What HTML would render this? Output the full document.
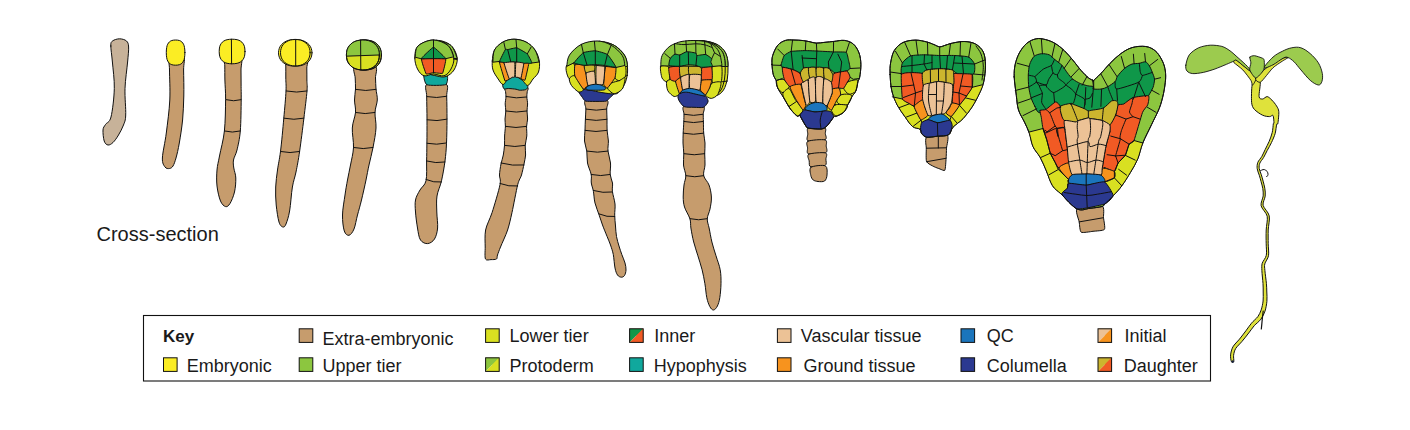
<!DOCTYPE html>
<html lang="en">
<head>
<meta charset="utf-8">
<title>Embryo development key</title>
<style>
html,body{margin:0;padding:0;background:#fff;}
body{width:1410px;height:430px;overflow:hidden;}
svg{display:block;}
svg text{font-family:"Liberation Sans",Arial,Helvetica,sans-serif;fill:#1a1a1a;}
svg path{stroke-linejoin:round;stroke-linecap:round;}
</style>
</head>
<body>
<svg width="1410" height="430" viewBox="0 0 1410 430">
<rect x="0" y="0" width="1410" height="430" fill="#ffffff"/>
<g id="legend">
<rect x="143.5" y="315.5" width="1067" height="65.5" fill="#fff" stroke="#111111" stroke-width="1.1"/>
<text x="163" y="341.8" font-size="17" font-weight="bold">Key</text>
<rect x="163.5" y="357.8" width="13.6" height="13.6" fill="#fbed24" stroke="#111111" stroke-width="1"/>
<text x="186.7" y="371.5" font-size="18">Embryonic</text>
<rect x="299.2" y="328.8" width="13.6" height="13.6" fill="#c69c6d" stroke="#111111" stroke-width="1"/>
<text x="322.5" y="344.5" font-size="18">Extra-embryonic</text>
<rect x="299.2" y="357.8" width="13.6" height="13.6" fill="#8cc63f" stroke="#111111" stroke-width="1"/>
<text x="322.5" y="371.5" font-size="18">Upper tier</text>
<rect x="485.6" y="328.8" width="13.6" height="13.6" fill="#d9e021" stroke="#111111" stroke-width="1"/>
<text x="509.6" y="341.8" font-size="18">Lower tier</text>
<path d="M485.6 357.8 h13.6 v13.6 z" fill="#d9e021" stroke="none"/>
<path d="M485.6 357.8 h13.6 L485.6 371.4 z" fill="#8cc63f" stroke="none"/>
<path d="M499.2 357.8 L499.2 371.4 L485.6 371.4 z" fill="#d9e021" stroke="none"/>
<rect x="485.6" y="357.8" width="13.6" height="13.6" fill="none" stroke="#111111" stroke-width="1"/>
<text x="509.6" y="371.5" font-size="18">Protoderm</text>
<path d="M629.6 328.8 h13.6 v13.6 z" fill="#f15a24" stroke="none"/>
<path d="M629.6 328.8 h13.6 L629.6 342.4 z" fill="#0f9749" stroke="none"/>
<path d="M643.2 328.8 L643.2 342.4 L629.6 342.4 z" fill="#f15a24" stroke="none"/>
<rect x="629.6" y="328.8" width="13.6" height="13.6" fill="none" stroke="#111111" stroke-width="1"/>
<text x="654.3" y="341.8" font-size="18">Inner</text>
<rect x="629.6" y="357.8" width="13.6" height="13.6" fill="#10a89d" stroke="#111111" stroke-width="1"/>
<text x="653.8" y="371.5" font-size="18">Hypophysis</text>
<rect x="777.4" y="328.8" width="13.6" height="13.6" fill="#ecc296" stroke="#111111" stroke-width="1"/>
<text x="800.8" y="341.8" font-size="18">Vascular tissue</text>
<rect x="777.4" y="357.8" width="13.6" height="13.6" fill="#f7931e" stroke="#111111" stroke-width="1"/>
<text x="803.4" y="371.5" font-size="18">Ground tissue</text>
<rect x="961" y="328.8" width="13.6" height="13.6" fill="#1b75bc" stroke="#111111" stroke-width="1"/>
<text x="986.8" y="341.8" font-size="18">QC</text>
<rect x="961" y="357.8" width="13.6" height="13.6" fill="#2b3990" stroke="#111111" stroke-width="1"/>
<text x="986.8" y="371.5" font-size="18">Columella</text>
<path d="M1098 328.8 h13.6 v13.6 z" fill="#f7931e" stroke="none"/>
<path d="M1098 328.8 h13.6 L1098 342.4 z" fill="#ecc296" stroke="none"/>
<path d="M1111.6 328.8 L1111.6 342.4 L1098 342.4 z" fill="#f7931e" stroke="none"/>
<rect x="1098" y="328.8" width="13.6" height="13.6" fill="none" stroke="#111111" stroke-width="1"/>
<text x="1124.4" y="341.8" font-size="18">Initial</text>
<path d="M1098 357.8 h13.6 v13.6 z" fill="#f15a24" stroke="none"/>
<path d="M1098 357.8 h13.6 L1098 371.4 z" fill="#ccb52e" stroke="none"/>
<path d="M1111.6 357.8 L1111.6 371.4 L1098 371.4 z" fill="#f15a24" stroke="none"/>
<rect x="1098" y="357.8" width="13.6" height="13.6" fill="none" stroke="#111111" stroke-width="1"/>
<text x="1123.8" y="371.5" font-size="18">Daughter</text>
</g>
<text x="96.5" y="241.2" font-size="20">Cross-section</text>
<g id="e1">
<path d="M110.8 46 C110.8 42.5 111 42.2 112.5 41 C114 39.8 117.2 38.8 119.5 38.8 C121.8 38.8 125 39.6 126.5 41 C128 42.4 128.4 43.5 128.6 47 C128.8 50.5 128.2 55.1 127.6 62 C127 68.9 125.3 79.7 125 88.5 C124.7 97.3 126 108.9 125.7 115 C125.5 121.1 124.7 121.7 123.5 125 C122.3 128.3 120.2 132.1 118.5 135 C116.8 137.9 114.8 140.8 113 142.5 C111.2 144.2 109.5 145.2 108 145 C106.5 144.8 105 143.5 104.2 141 C103.4 138.5 102.8 132.8 103 130 C103.2 127.2 104.2 126.7 105.5 124.5 C106.8 122.3 109.5 123 111 117 C112.5 111 114.1 97.7 114.3 88.5 C114.5 79.3 113 69.1 112.4 62 C111.8 54.9 110.8 49.5 110.8 46Z" fill="#c7b299" stroke="#111111" stroke-width="1"/>
</g>
<g id="e2">
<path d="M169.6 56 C171.9 53.7 181.1 53.7 183.4 56 C185.7 58.3 183.5 63.3 183.6 70 C183.7 76.7 184 87.7 183.8 96 C183.6 104.3 183.3 112.2 182.6 120 C181.8 127.8 180.4 136.7 179.3 143 C178.2 149.3 177.1 154.2 176 158 C174.9 161.8 174.1 164.2 173 166 C171.9 167.8 170.8 168.3 169.5 168.5 C168.2 168.7 166.2 168.8 165 167 C163.8 165.2 162.2 163.7 162.4 158 C162.6 152.3 165.1 142.7 166.3 133 C167.5 123.3 169.3 110.5 169.8 100 C170.3 89.5 169.5 77.3 169.5 70 C169.5 62.7 167.3 58.3 169.6 56Z" fill="#c69c6d" stroke="#111111" stroke-width="1"/>
<path d="M184.9 52.6 C184.9 54.3 184.8 56.3 184.5 57.7 C184.3 59.1 184 60 183.5 61 C183 61.9 182.5 62.7 181.8 63.3 C181.1 63.9 180.4 64.4 179.4 64.7 C178.3 65 176.9 65.2 175.6 65.2 C174.3 65.2 172.9 65 171.8 64.7 C170.8 64.4 170.1 63.9 169.4 63.3 C168.7 62.7 168.2 61.9 167.7 61 C167.2 60 166.9 59.1 166.7 57.7 C166.4 56.3 166.3 54.3 166.3 52.6 C166.3 50.9 166.4 48.9 166.7 47.5 C166.9 46.1 167.2 45.2 167.7 44.2 C168.2 43.3 168.7 42.5 169.4 41.9 C170.1 41.3 170.8 40.8 171.8 40.5 C172.9 40.2 174.3 40 175.6 40 C176.9 40 178.3 40.2 179.4 40.5 C180.4 40.8 181.1 41.3 181.8 41.9 C182.5 42.5 183 43.3 183.5 44.2 C184 45.2 184.3 46.1 184.5 47.5 C184.8 48.9 184.9 50.9 184.9 52.6Z" fill="#fbed24" stroke="#111111" stroke-width="1"/>
</g>
<g id="e3">
<path d="M224.8 55 C227.5 53.2 238.1 52.5 240.8 55 C243.5 57.5 240.9 65 241 70 C241.1 75 241.1 80 241.1 85 C241.1 90 241.3 92 241.2 99.7 C241.1 107.4 241 122.6 240.3 131 C239.6 139.4 238.1 145.2 237 150 C235.9 154.8 234 157 233.5 160 C233 163 233.4 165 233.8 168 C234.2 171 235.7 174 235.8 178 C235.9 182 235.5 187.8 234.5 192 C233.5 196.2 231.5 201.1 230 203.5 C228.5 205.9 227.2 207 225.6 206.6 C224 206.2 221.9 204.4 220.5 201 C219.1 197.6 217.6 191.2 217 186 C216.4 180.8 216.6 175 217 170 C217.4 165 218.3 162.5 219.5 156 C220.7 149.5 223.4 140.4 224.4 131 C225.4 121.6 225.5 108.2 225.6 99.7 C225.7 91.2 225 85.6 224.9 80 C224.8 74.4 224.8 70.2 224.8 66 C224.8 61.8 222.1 56.8 224.8 55Z" fill="#c69c6d" stroke="#111111" stroke-width="1"/>
<path d="M226 99.7 Q233.6 101.9 241.2 99.7" fill="none" stroke="#111111" stroke-width="1"/>
<path d="M224.4 131 Q232.4 133.2 240.3 131" fill="none" stroke="#111111" stroke-width="1"/>
<path d="M245 51.5 C245 53.1 244.8 55 244.5 56.3 C244.2 57.6 243.6 58.6 243 59.5 C242.3 60.5 241.5 61.3 240.5 61.9 C239.6 62.5 238.5 63 237.1 63.3 C235.7 63.6 233.8 63.8 232.1 63.8 C230.4 63.8 228.5 63.6 227.1 63.3 C225.7 63 224.6 62.5 223.7 61.9 C222.7 61.3 221.9 60.5 221.2 59.5 C220.6 58.6 220 57.6 219.7 56.3 C219.4 55 219.2 53.1 219.2 51.5 C219.2 49.9 219.4 48 219.7 46.7 C220 45.4 220.6 44.4 221.2 43.5 C221.9 42.5 222.7 41.7 223.7 41.1 C224.6 40.5 225.7 40 227.1 39.7 C228.5 39.4 230.4 39.2 232.1 39.2 C233.8 39.2 235.7 39.4 237.1 39.7 C238.5 40 239.6 40.5 240.5 41.1 C241.5 41.7 242.3 42.5 243 43.5 C243.6 44.4 244.2 45.4 244.5 46.7 C244.8 48 245 49.9 245 51.5Z" fill="#fbed24" stroke="#111111" stroke-width="1"/>
<path d="M231.4 39.2 L231.6 63.8" fill="none" stroke="#111111" stroke-width="1"/>
</g>
<g id="e4">
<path d="M285.8 56 C289.3 54.3 303.1 54 306.6 56 C310.1 58 306.8 64 306.8 68 C306.9 72 306.9 76.2 306.9 80 C306.9 83.8 307.5 84.6 307 91 C306.5 97.4 305.1 108.1 303.9 118.2 C302.7 128.3 300.9 142.5 299.6 151.5 C298.3 160.5 297.2 166.1 296 172 C294.8 177.9 293.5 180.5 292.4 187 C291.3 193.5 290.7 204.8 289.6 211 C288.5 217.2 287.1 221.3 286 224 C284.9 226.7 284.1 227.3 282.9 227 C281.7 226.7 280.1 225.7 279 222 C277.9 218.3 276.8 210.8 276.2 205 C275.6 199.2 275.5 192.8 275.7 187 C275.9 181.2 276.7 175.9 277.5 170 C278.3 164.1 279.4 160.1 280.5 151.5 C281.6 142.9 282.9 128.3 283.8 118.2 C284.7 108.1 285.7 97.7 286 91 C286.3 84.3 285.8 82.2 285.8 78 C285.8 73.8 285.8 69.7 285.8 66 C285.8 62.3 282.3 57.7 285.8 56Z" fill="#c69c6d" stroke="#111111" stroke-width="1"/>
<path d="M286.2 91 Q296.6 93.2 307 91" fill="none" stroke="#111111" stroke-width="1"/>
<path d="M283.8 118.2 Q293.9 120.4 303.9 118.2" fill="none" stroke="#111111" stroke-width="1"/>
<path d="M280.5 151.5 Q290.1 153.7 299.6 151.5" fill="none" stroke="#111111" stroke-width="1"/>
<path d="M312 52.8 C312 54.3 311.7 55.9 311.2 57.3 C310.7 58.7 310 59.9 309 61 C308 62.1 306.8 63 305.5 63.8 C304.1 64.6 302.6 65.2 300.9 65.6 C299.2 66 297.1 66.2 295.2 66.2 C293.4 66.2 291.3 66 289.6 65.6 C287.9 65.2 286.4 64.6 285 63.8 C283.7 63 282.5 62.1 281.5 61 C280.5 59.9 279.8 58.7 279.3 57.3 C278.8 55.9 278.5 54.3 278.5 52.8 C278.5 51.3 278.8 49.7 279.3 48.3 C279.8 46.9 280.5 45.7 281.5 44.6 C282.5 43.5 283.7 42.6 285 41.8 C286.4 41 287.9 40.4 289.6 40 C291.3 39.6 293.4 39.4 295.2 39.4 C297.1 39.4 299.2 39.6 300.9 40 C302.6 40.4 304.1 41 305.5 41.8 C306.8 42.6 308 43.5 309 44.6 C310 45.7 310.7 46.9 311.2 48.3 C311.7 49.7 312 51.3 312 52.8Z" fill="#fbed24" stroke="#111111" stroke-width="1"/>
<path d="M310.1 52.7 C310.1 54.2 309.9 55.8 309.4 57.1 C309 58.5 308.3 59.7 307.5 60.8 C306.6 61.8 305.5 62.8 304.3 63.5 C303.1 64.3 301.8 64.9 300.3 65.3 C298.8 65.7 297 65.9 295.3 65.9 C293.6 65.9 291.8 65.7 290.3 65.3 C288.8 64.9 287.5 64.3 286.3 63.5 C285.1 62.8 284 61.8 283.1 60.8 C282.3 59.7 281.6 58.5 281.2 57.1 C280.7 55.8 280.5 54.2 280.5 52.7 C280.5 51.2 280.7 49.6 281.2 48.3 C281.6 46.9 282.3 45.7 283.1 44.6 C284 43.6 285.1 42.6 286.3 41.9 C287.5 41.1 288.8 40.5 290.3 40.1 C291.8 39.7 293.6 39.5 295.3 39.5 C297 39.5 298.8 39.7 300.3 40.1 C301.8 40.5 303.1 41.1 304.3 41.9 C305.5 42.6 306.6 43.6 307.5 44.6 C308.3 45.7 309 46.9 309.4 48.3 C309.9 49.6 310.1 51.2 310.1 52.7Z" fill="#fbed24" stroke="#111111" stroke-width="1"/>
<path d="M295.7 39.5 L295.7 65.8" fill="none" stroke="#111111" stroke-width="1"/>
</g>
<g id="e5">
<path d="M355 66 C358.3 64 371.6 64 375 66 C378.4 68 375.3 74.2 375.5 78 C375.7 81.8 375.7 85.3 376 89 C376.3 92.7 377.5 96.1 377.3 100 C377.1 103.9 375.2 107.8 375 112.5 C374.8 117.2 376.3 122.2 376 128 C375.7 133.8 374.2 141.3 373 147.5 C371.8 153.7 370.2 159.6 369 165 C367.8 170.4 367.2 174.2 366 180 C364.8 185.8 362.9 194.2 361.5 200 C360.1 205.8 358.8 210.2 357.5 215 C356.2 219.8 355.4 225.6 354 229 C352.6 232.4 350.6 235 349 235.3 C347.4 235.6 345.4 234.4 344.3 231 C343.2 227.6 342.4 221 342.5 215 C342.6 209 344.2 200.8 345 195 C345.8 189.2 346.6 185 347.5 180 C348.4 175 349.5 170.4 350.5 165 C351.5 159.6 353.2 153.7 353.5 147.5 C353.8 141.3 352 133.8 352.3 128 C352.6 122.2 355.1 117.2 355.5 112.5 C355.9 107.8 354.5 103.9 354.5 100 C354.5 96.1 355.4 92.7 355.5 89 C355.6 85.3 355.3 81.8 355.2 78 C355.1 74.2 351.7 68 355 66Z" fill="#c69c6d" stroke="#111111" stroke-width="1"/>
<path d="M355.5 89.4 Q365.8 91.6 376 89.4" fill="none" stroke="#111111" stroke-width="1"/>
<path d="M355.5 112.5 Q365.2 114.7 375 112.5" fill="none" stroke="#111111" stroke-width="1"/>
<path d="M353.5 147.5 Q363.2 149.7 373 147.5" fill="none" stroke="#111111" stroke-width="1"/>
<path d="M381.4 55 C381.4 56.7 381.1 58.6 380.7 60.2 C380.2 61.7 379.4 63.1 378.5 64.3 C377.6 65.5 376.4 66.5 375.1 67.4 C373.8 68.2 372.3 68.9 370.6 69.3 C368.9 69.8 366.8 70 364.9 70 C363 70 360.9 69.8 359.2 69.3 C357.5 68.9 356 68.2 354.7 67.4 C353.4 66.5 352.2 65.5 351.3 64.3 C350.4 63.1 349.6 61.7 349.1 60.2 C348.7 58.6 348.4 56.7 348.4 55 C348.4 53.3 348.7 51.4 349.1 49.8 C349.6 48.3 350.4 46.9 351.3 45.7 C352.2 44.5 353.4 43.5 354.7 42.6 C356 41.8 357.5 41.1 359.2 40.7 C360.9 40.2 363 40 364.9 40 C366.8 40 368.9 40.2 370.6 40.7 C372.3 41.1 373.8 41.8 375.1 42.6 C376.4 43.5 377.6 44.5 378.5 45.7 C379.4 46.9 380.2 48.3 380.7 49.8 C381.1 51.4 381.4 53.3 381.4 55Z" fill="#d9e021" stroke="#111111" stroke-width="1"/>
<clipPath id="c5b"><path d="M381.4 55 C381.4 56.7 381.1 58.6 380.7 60.2 C380.2 61.7 379.4 63.1 378.5 64.3 C377.6 65.5 376.4 66.5 375.1 67.4 C373.8 68.2 372.3 68.9 370.6 69.3 C368.9 69.8 366.8 70 364.9 70 C363 70 360.9 69.8 359.2 69.3 C357.5 68.9 356 68.2 354.7 67.4 C353.4 66.5 352.2 65.5 351.3 64.3 C350.4 63.1 349.6 61.7 349.1 60.2 C348.7 58.6 348.4 56.7 348.4 55 C348.4 53.3 348.7 51.4 349.1 49.8 C349.6 48.3 350.4 46.9 351.3 45.7 C352.2 44.5 353.4 43.5 354.7 42.6 C356 41.8 357.5 41.1 359.2 40.7 C360.9 40.2 363 40 364.9 40 C366.8 40 368.9 40.2 370.6 40.7 C372.3 41.1 373.8 41.8 375.1 42.6 C376.4 43.5 377.6 44.5 378.5 45.7 C379.4 46.9 380.2 48.3 380.7 49.8 C381.1 51.4 381.4 53.3 381.4 55Z"/></clipPath>
<g clip-path="url(#c5b)"><path d="M340 30 H390 V54.6 L340 56.4Z" fill="#8cc63f"/></g>
<path d="M381.4 55 C381.4 56.7 381.1 58.6 380.7 60.2 C380.2 61.7 379.4 63.1 378.5 64.3 C377.6 65.5 376.4 66.5 375.1 67.4 C373.8 68.2 372.3 68.9 370.6 69.3 C368.9 69.8 366.8 70 364.9 70 C363 70 360.9 69.8 359.2 69.3 C357.5 68.9 356 68.2 354.7 67.4 C353.4 66.5 352.2 65.5 351.3 64.3 C350.4 63.1 349.6 61.7 349.1 60.2 C348.7 58.6 348.4 56.7 348.4 55 C348.4 53.3 348.7 51.4 349.1 49.8 C349.6 48.3 350.4 46.9 351.3 45.7 C352.2 44.5 353.4 43.5 354.7 42.6 C356 41.8 357.5 41.1 359.2 40.7 C360.9 40.2 363 40 364.9 40 C366.8 40 368.9 40.2 370.6 40.7 C372.3 41.1 373.8 41.8 375.1 42.6 C376.4 43.5 377.6 44.5 378.5 45.7 C379.4 46.9 380.2 48.3 380.7 49.8 C381.1 51.4 381.4 53.3 381.4 55Z" fill="none" stroke="#111111" stroke-width="1"/>
<path d="M379.4 55 C379.4 56.7 379.1 58.6 378.7 60.2 C378.2 61.7 377.4 63.1 376.5 64.3 C375.6 65.5 374.4 66.5 373.1 67.4 C371.8 68.2 370.3 68.9 368.6 69.3 C366.9 69.8 364.8 70 362.9 70 C361 70 358.9 69.8 357.2 69.3 C355.5 68.9 354 68.2 352.7 67.4 C351.4 66.5 350.2 65.5 349.3 64.3 C348.4 63.1 347.6 61.7 347.1 60.2 C346.7 58.6 346.4 56.7 346.4 55 C346.4 53.3 346.7 51.4 347.1 49.8 C347.6 48.3 348.4 46.9 349.3 45.7 C350.2 44.5 351.4 43.5 352.7 42.6 C354 41.8 355.5 41.1 357.2 40.7 C358.9 40.2 361 40 362.9 40 C364.8 40 366.9 40.2 368.6 40.7 C370.3 41.1 371.8 41.8 373.1 42.6 C374.4 43.5 375.6 44.5 376.5 45.7 C377.4 46.9 378.2 48.3 378.7 49.8 C379.1 51.4 379.4 53.3 379.4 55Z" fill="#d9e021" stroke="#111111" stroke-width="1"/>
<clipPath id="c5f"><path d="M379.4 55 C379.4 56.7 379.1 58.6 378.7 60.2 C378.2 61.7 377.4 63.1 376.5 64.3 C375.6 65.5 374.4 66.5 373.1 67.4 C371.8 68.2 370.3 68.9 368.6 69.3 C366.9 69.8 364.8 70 362.9 70 C361 70 358.9 69.8 357.2 69.3 C355.5 68.9 354 68.2 352.7 67.4 C351.4 66.5 350.2 65.5 349.3 64.3 C348.4 63.1 347.6 61.7 347.1 60.2 C346.7 58.6 346.4 56.7 346.4 55 C346.4 53.3 346.7 51.4 347.1 49.8 C347.6 48.3 348.4 46.9 349.3 45.7 C350.2 44.5 351.4 43.5 352.7 42.6 C354 41.8 355.5 41.1 357.2 40.7 C358.9 40.2 361 40 362.9 40 C364.8 40 366.9 40.2 368.6 40.7 C370.3 41.1 371.8 41.8 373.1 42.6 C374.4 43.5 375.6 44.5 376.5 45.7 C377.4 46.9 378.2 48.3 378.7 49.8 C379.1 51.4 379.4 53.3 379.4 55Z"/></clipPath>
<g clip-path="url(#c5f)"><path d="M340 30 H390 V54.6 L340 56.4Z" fill="#8cc63f"/><path d="M340 56.4 L390 54.6" fill="none" stroke="#111111" stroke-width="1"/></g>
<path d="M379.4 55 C379.4 56.7 379.1 58.6 378.7 60.2 C378.2 61.7 377.4 63.1 376.5 64.3 C375.6 65.5 374.4 66.5 373.1 67.4 C371.8 68.2 370.3 68.9 368.6 69.3 C366.9 69.8 364.8 70 362.9 70 C361 70 358.9 69.8 357.2 69.3 C355.5 68.9 354 68.2 352.7 67.4 C351.4 66.5 350.2 65.5 349.3 64.3 C348.4 63.1 347.6 61.7 347.1 60.2 C346.7 58.6 346.4 56.7 346.4 55 C346.4 53.3 346.7 51.4 347.1 49.8 C347.6 48.3 348.4 46.9 349.3 45.7 C350.2 44.5 351.4 43.5 352.7 42.6 C354 41.8 355.5 41.1 357.2 40.7 C358.9 40.2 361 40 362.9 40 C364.8 40 366.9 40.2 368.6 40.7 C370.3 41.1 371.8 41.8 373.1 42.6 C374.4 43.5 375.6 44.5 376.5 45.7 C377.4 46.9 378.2 48.3 378.7 49.8 C379.1 51.4 379.4 53.3 379.4 55Z" fill="none" stroke="#111111" stroke-width="1"/>
<path d="M360.6 40 L360.8 70" fill="none" stroke="#111111" stroke-width="1"/>
</g>
<g id="e6">
<path d="M427 84 C430.2 81.9 442.7 81.9 446 84 C449.3 86.1 446.5 90.7 446.7 96.6 C446.9 102.5 447 111.7 447 119.5 C447 127.3 446.8 136.4 446.5 143.3 C446.2 150.2 445.8 154.8 445 161 C444.2 167.2 442.8 175 441.5 180.8 C440.2 186.6 437.8 190.8 437 196 C436.2 201.2 436.7 206.7 436.8 212 C436.9 217.3 438 223.5 437.6 228 C437.2 232.5 436.1 236.4 434.5 239 C432.9 241.6 430 243.4 427.7 243.6 C425.4 243.8 422.2 242.6 420.5 240 C418.8 237.4 418.3 232.7 417.5 228 C416.7 223.3 415.8 216.7 415.5 212 C415.2 207.3 414.8 203.7 415.5 200 C416.2 196.3 418.2 193.2 420 190 C421.8 186.8 424.9 185.6 426 180.8 C427.1 176 426.5 167.2 426.6 161 C426.8 154.8 426.8 150.2 426.9 143.3 C427 136.4 427 127.3 427 119.5 C427 111.7 426.7 102.5 426.7 96.6 C426.7 90.7 423.8 86.1 427 84Z" fill="#c69c6d" stroke="#111111" stroke-width="1"/>
<path d="M426.7 96.6 Q436.7 98.6 446.7 96.3" fill="none" stroke="#111111" stroke-width="1"/>
<path d="M427 119.8 Q437 121.7 447 119.2" fill="none" stroke="#111111" stroke-width="1"/>
<path d="M426.9 143.3 Q436.7 145.3 446.5 143" fill="none" stroke="#111111" stroke-width="1"/>
<path d="M426.6 161 Q435.8 163.7 445 162" fill="none" stroke="#111111" stroke-width="1"/>
<path d="M426 179.5 Q433.8 182.9 441.5 182" fill="none" stroke="#111111" stroke-width="1"/>
<path d="M423.7 75.5 C423.8 74.4 427 73.8 428 73.5 C429 73.2 432.3 73 433.5 73 C434.7 73 438.6 73 440 73.2 C441.4 73.5 446.7 74.4 447.3 75.5 C447.9 76.6 447.7 83.7 445.7 84.6 C443.7 85.5 429.2 85.7 427 84.8 C424.8 83.9 423.6 76.6 423.7 75.5Z" fill="#10a89d" stroke="#111111" stroke-width="1"/>
<path d="M419.5 58 C419 53.7 420.1 49 423 46 C425.9 43 432.3 40.4 437 40.3 C441.7 40.2 447.6 42.5 451 45.5 C454.4 48.5 456.7 53.9 457.2 58 C457.7 62.1 455.9 66.9 454 70 C452.1 73.1 448.8 75.5 446 76.5 C443.2 77.5 440.3 76.8 437 76 C433.7 75.2 428.9 75 426 72 C423.1 69 420 62.3 419.5 58Z" fill="#d9e021" stroke="#111111" stroke-width="1"/>
<path d="M437 40.3 C439.3 41.2 447.6 42.5 451 45.5 C454.4 48.5 456.2 56.3 457.2 58.5 L440 58.5Z" fill="#8cc63f" stroke="#111111" stroke-width="1"/>
<path d="M414.8 58 C414.9 54.2 415 49 418 46 C421 43 428 40.1 433 40 C438 39.9 444.5 42.5 448 45.5 C451.5 48.5 453.3 54.1 453.8 58 C454.3 61.9 452.6 66 451 69 C449.4 72 446.9 75 444 75.8 C441.1 76.6 436.8 74 433.5 74 C430.2 74 426.7 76.6 424 75.8 C421.3 75 419 72 417.5 69 C416 66 414.7 61.8 414.8 58Z" fill="#d9e021" stroke="#111111" stroke-width="1"/>
<path d="M453.5 59 L457 59.5" fill="none" stroke="#111111" stroke-width="1"/>
<path d="M415.2 56.8 C415.7 55 415 48.8 418 46 C421 43.2 428 40.1 433 40 C438 39.9 444.6 42.7 448 45.5 C451.4 48.3 452.7 54.9 453.6 56.8 L445.7 58.7 L421.3 58.7Z" fill="#8cc63f" stroke="#111111" stroke-width="1"/>
<path d="M433.5 47 C434.3 47 446.1 58.3 445.7 58.7 C445.3 59.1 421.7 59.1 421.3 58.7 C420.9 58.3 432.7 47 433.5 47Z" fill="#0f9749" stroke="#111111" stroke-width="1"/>
<path d="M421.3 59 C421.9 58.5 445 58.5 445.7 59 C446.4 59.5 443 72.8 442.6 73.3 C442.2 73.8 434 72.6 433.5 72.6 C433 72.6 426.6 74.5 426.2 74 C425.8 73.5 420.7 59.5 421.3 59Z" fill="#f15a24" stroke="#111111" stroke-width="1"/>
<path d="M433.5 40 L433.5 73" fill="none" stroke="#111111" stroke-width="1"/>
</g>
<g id="e7">
<path d="M506 87 C509.1 86.2 523.4 86.2 526.6 87 C529.8 87.8 527.2 90.5 527.2 92 C527.2 93.5 526.7 95 526.8 96.8 C526.9 98.6 527.6 101.9 527.6 104 C527.6 106.1 527 108.8 527 111 C527 113.2 527.7 116.7 527.6 119 C527.5 121.3 526.7 123.9 526.6 126.4 C526.5 129 527 133.2 526.8 136 C526.6 138.8 525.4 142.6 525.2 145.4 C525 148.2 525.8 152.2 525.6 155 C525.4 157.8 524.6 161 524 164 C523.4 167 522.4 171.9 521.5 175 C520.6 178.1 519.1 179.1 517.7 184.7 C516.3 190.3 513.5 205.7 512 212.5 C510.5 219.3 509.3 224.8 507.6 230 C505.9 235.2 502 243.2 500.5 247 C499 250.8 498.1 253.2 497.5 255 C496.9 256.8 497.5 258.3 496.5 259 C495.5 259.7 492.6 259.6 491 259.6 C489.4 259.6 486.4 260.9 485.5 259 C484.6 257.1 485.2 251.3 485.2 247 C485.2 242.7 484.6 235.2 485.6 230 C486.6 224.8 489.9 219.3 492.1 212.5 C494.3 205.7 498.9 190.3 500 184.7 C501.1 179.1 499.4 178.1 499.5 175 C499.6 171.9 500.4 167 501 164 C501.6 161 502.8 157.8 503.3 155 C503.8 152.2 504.3 148.2 504.5 145.4 C504.7 142.6 504.5 138.8 504.6 136 C504.7 133.2 505.3 129 505.4 126.4 C505.5 123.9 504.9 121.3 505 119 C505.1 116.7 505.8 113.2 505.8 111 C505.8 108.8 505.2 106.1 505.2 104 C505.2 101.9 505.9 98.6 506 96.8 C506.1 95 505.6 93.5 505.6 92 C505.6 90.5 502.9 87.8 506 87Z" fill="#c69c6d" stroke="#111111" stroke-width="1"/>
<path d="M506 96.5 Q516.4 99 526.8 97" fill="none" stroke="#111111" stroke-width="1"/>
<path d="M505.8 111 Q516.4 113.2 527 111" fill="none" stroke="#111111" stroke-width="1"/>
<path d="M505.4 126.4 Q516 128.6 526.6 126.4" fill="none" stroke="#111111" stroke-width="1"/>
<path d="M504.5 145.4 Q514.9 147.6 525.2 145.4" fill="none" stroke="#111111" stroke-width="1"/>
<path d="M501 163 Q512.5 166.2 524 165" fill="none" stroke="#111111" stroke-width="1"/>
<path d="M500 183.5 Q508.9 186.9 517.7 186" fill="none" stroke="#111111" stroke-width="1"/>
<path d="M502.7 84.7 C503.1 83.5 505.6 80.8 506.9 79.8 C508.2 78.8 511.3 77.4 512.4 77 C513.5 76.6 514.3 76.5 515 76.5 C515.7 76.5 516.9 76.8 518 77.3 C519.1 77.8 521.6 79.3 522.9 80.5 C524.2 81.7 527.4 85.2 527.8 86.4 C528.2 87.6 526.8 89.1 525.7 89.6 C524.6 90.1 520.7 90.3 519.4 90.2 C518.1 90.1 517.5 89.4 516 89.2 C514.5 89 509.9 88.5 508.3 88.5 C506.7 88.5 504.8 89.4 504.1 88.9 C503.4 88.4 502.3 85.9 502.7 84.7Z" fill="#10a89d" stroke="#111111" stroke-width="1"/>
<path d="M492.3 61 C492.6 57.7 492.7 53.2 494.5 50 C496.3 46.8 499.8 43.8 503 42 C506.2 40.2 510.2 39.2 514 39.2 C517.8 39.2 522.5 40.2 526 42 C529.5 43.8 532.8 46.8 535 50 C537.2 53.2 538.7 57.3 539.3 61 C539.9 64.7 539.5 69 538.5 72 C537.5 75 534.8 76.8 533 79 C531.2 81.2 529.6 85.3 527.8 85.5 C526 85.7 524.1 81.5 522 80 C519.9 78.5 517.3 76.7 515 76.5 C512.7 76.3 510 77.7 508 79 C506 80.3 504.8 84.7 503 84.5 C501.2 84.3 499.2 80.4 497.5 78 C495.8 75.6 493.9 72.8 493 70 C492.1 67.2 492.1 64.3 492.3 61Z" fill="#d9e021" stroke="#111111" stroke-width="1"/>
<path d="M492.9 61.8 C493.2 59.8 492.8 53.3 494.5 50 C496.2 46.7 499.8 43.8 503 42 C506.2 40.2 510.2 39.2 514 39.2 C517.8 39.2 522.5 40.2 526 42 C529.5 43.8 532.8 46.7 535 50 C537.2 53.3 538.4 60 539.1 62 L531.9 63 L499.4 61.5Z" fill="#8cc63f" stroke="#111111" stroke-width="1"/>
<path d="M503.9 42.6 L505.4 49.4" fill="none" stroke="#111111" stroke-width="1"/>
<path d="M516 39.5 L516.7 47.8" fill="none" stroke="#111111" stroke-width="1"/>
<path d="M531.1 47.1 L527.3 53.9" fill="none" stroke="#111111" stroke-width="1"/>
<path d="M499.4 61.5 C499.5 60.8 505 50 505.4 49.4 C505.8 48.8 507.1 49.7 507.7 49.6 C508.3 49.5 515.7 47.6 516.7 47.8 C517.7 48 526.5 53.1 527.3 53.9 C528.1 54.7 532.1 62.5 531.9 63 C531.7 63.5 524.8 63.5 524 63.5 C523.2 63.5 516 62 515 62 C514 62 504.8 62.8 504 62.8 C503.2 62.8 499.3 62.2 499.4 61.5Z" fill="#0f9749" stroke="#111111" stroke-width="1"/>
<path d="M507.7 49.6 L510.9 62.2" fill="none" stroke="#111111" stroke-width="1"/>
<path d="M516.7 47.8 L516.7 62" fill="none" stroke="#111111" stroke-width="1"/>
<path d="M499.4 62.4 C499.4 61.8 503.9 62.3 504.2 62.8 C504.5 63.3 509.8 78 509.8 78.6 C509.8 79.2 505.3 81.5 505 81 C504.7 80.5 499.4 63 499.4 62.4Z" fill="#f7931e" stroke="#111111" stroke-width="1"/>
<path d="M523.6 63.5 C523.9 63 528.8 63 528.8 63.6 C528.8 64.2 525.3 79.7 525 80.2 C524.7 80.7 520.5 78.6 520.5 78 C520.5 77.4 523.3 64 523.6 63.5Z" fill="#f7931e" stroke="#111111" stroke-width="1"/>
<path d="M503.9 62.8 C504.1 62.2 514.3 61.6 514.7 62.1 C515.1 62.6 514.8 76.5 514.7 77 C514.6 77.5 512.6 77.1 512.4 77.2 C512.2 77.3 509.5 79.3 509.2 78.8 C508.9 78.3 503.7 63.4 503.9 62.8Z" fill="#ecc296" stroke="#111111" stroke-width="1"/>
<path d="M515.8 62.1 C516.1 61.6 523.6 62.8 523.8 63.3 C524 63.8 521.2 77.6 521 78.1 C520.8 78.6 518.2 77.3 518 77.3 C517.8 77.3 515.5 77.5 515.4 77 C515.3 76.5 515.5 62.6 515.8 62.1Z" fill="#ecc296" stroke="#111111" stroke-width="1"/>
</g>
<g id="e8">
<path d="M586 100 C589.4 98.5 603 98.5 606.5 100 C610 101.5 606.6 105.9 606.7 109.1 C606.8 112.3 606.9 115.8 607 119.3 C607.1 122.8 606.9 126.8 607.1 130.4 C607.3 134 608.2 137.6 608.4 141 C608.5 144.4 607.6 147.4 608 151.1 C608.4 154.8 610.1 159.1 610.5 163 C610.9 166.9 609.9 171.2 610.2 174.5 C610.5 177.8 612.1 180.2 612.5 183 C612.9 185.8 612 187.8 612.4 191.3 C612.8 194.8 614.6 200 615 204 C615.4 208 614.6 211.5 614.7 215.2 C614.8 218.9 615.2 222.4 615.5 226 C615.8 229.6 615.9 233.2 616.5 236.5 C617.1 239.8 618.1 243 619 246 C619.9 249 620.8 251.7 621.8 254.5 C622.8 257.3 624.3 260.4 625 263 C625.7 265.6 626.1 267.9 626 270 C625.9 272.1 625.3 274.3 624.5 275.5 C623.7 276.7 622.5 277.3 621.3 277.2 C620.1 277.1 618.5 276.5 617.5 275 C616.5 273.5 615.7 271.4 615 268 C614.3 264.6 614 258.3 613.3 254.5 C612.5 250.7 611.5 248 610.5 245 C609.5 242 608.4 239.8 607.1 236.5 C605.8 233.2 603.8 228.6 602.5 225 C601.2 221.4 600.5 218.9 599.2 215.2 C598 211.5 596 207 595 203 C594 199 594 194.6 593.4 191.3 C592.8 188 591.7 185.8 591.3 183 C590.9 180.2 591.8 177.8 591.2 174.5 C590.6 171.2 588.2 166.9 587.5 163 C586.8 159.1 587.3 154.8 586.8 151.1 C586.3 147.4 584.8 144.4 584.5 141 C584.2 137.6 584.9 134 585 130.4 C585.1 126.8 585.2 122.8 585.4 119.3 C585.5 115.8 585.8 112.3 585.9 109.1 C586 105.9 582.6 101.5 586 100Z" fill="#c69c6d" stroke="#111111" stroke-width="1"/>
<path d="M585.9 109.1 Q596.3 111.3 606.7 109.1" fill="none" stroke="#111111" stroke-width="1"/>
<path d="M585.4 119.3 Q596.2 121.5 607 119.3" fill="none" stroke="#111111" stroke-width="1"/>
<path d="M585 130.4 Q596 132.6 607.1 130.4" fill="none" stroke="#111111" stroke-width="1"/>
<path d="M586.8 151.1 Q597.4 153.3 608 151.1" fill="none" stroke="#111111" stroke-width="1"/>
<path d="M591.2 174.5 Q600.7 176.7 610.2 174.5" fill="none" stroke="#111111" stroke-width="1"/>
<path d="M593.4 190.5 Q602.9 193.4 612.4 192" fill="none" stroke="#111111" stroke-width="1"/>
<path d="M599.2 214 Q607 217.4 614.7 216.5" fill="none" stroke="#111111" stroke-width="1"/>
<path d="M578.6 91.7 C578.7 91 582.5 89.4 583.3 89.3 C584.1 89.2 586.2 89.9 587.9 90 C589.6 90.1 602.2 90.2 603.8 90 C605.4 89.8 606.5 87.7 607.4 88 C608.2 88.3 613.8 92.8 614 93.6 C614.2 94.4 610.9 96.7 610.2 97.3 C609.5 97.9 607.8 100.9 605.8 101.2 C603.8 101.5 588 101.5 586 101.2 C584 100.9 582.9 98.1 582.3 97.3 C581.7 96.5 578.5 92.4 578.6 91.7Z" fill="#2b3990" stroke="#111111" stroke-width="1"/>
<path d="M570 70 C569.2 65.2 570.2 59.2 572.5 55 C574.8 50.8 579.5 47.3 584 45 C588.5 42.7 594.4 41.2 599.5 41.3 C604.6 41.4 610.2 43 614.5 45.5 C618.8 48 622.8 51.9 625 56 C627.2 60.1 627.5 65.7 627.6 70 C627.7 74.3 626.8 78.5 625.5 82 C624.2 85.5 622.1 89 620 91 C617.9 93 618 94.2 613 94 C608 93.8 596 91.7 590 90 C584 88.3 580.3 87.3 577 84 C573.7 80.7 570.8 74.8 570 70Z" fill="#d9e021" stroke="#111111" stroke-width="1"/>
<path d="M599.5 41.3 C602 42 610.2 43 614.5 45.5 C618.8 48 622.8 52.5 625 56 C627.2 59.5 627.2 64.8 627.6 66.5 L600 66.5Z" fill="#8cc63f" stroke="#111111" stroke-width="1"/>
<path d="M624.5 76.5 L627.5 75.5" fill="none" stroke="#111111" stroke-width="1"/>
<path d="M566.5 65.7 C567.5 64.6 572.9 62.6 574 63.8 C575.1 65 575.5 73 574.9 75 C574.3 77 570.4 79.1 569.3 78.7 C568.2 78.3 566.9 73.9 566.5 72.2 C566.1 70.5 565.5 66.8 566.5 65.7Z" fill="#d9e021" stroke="#111111" stroke-width="1"/>
<path d="M569.3 78.7 C569.8 77.4 573 74.6 574.9 76 C576.8 77.4 582.8 86.9 583.3 89 C583.8 91.1 580.2 92.4 578.6 91.9 C577 91.4 572.7 87.3 571.5 85.5 C570.3 83.7 568.8 80 569.3 78.7Z" fill="#d9e021" stroke="#111111" stroke-width="1"/>
<path d="M615.8 67.6 C617.1 66 623.7 64.6 625 65.7 C626.3 66.8 626.3 74 625.6 76 C624.9 78 620.9 80.4 619.5 80.6 C618.1 80.8 615.4 79.5 614.9 77.8 C614.4 76.1 614.5 69.2 615.8 67.6Z" fill="#d9e021" stroke="#111111" stroke-width="1"/>
<path d="M619.5 80.6 C621.3 79.9 624.6 76.7 625 77.8 C625.4 78.9 623.8 86.9 622.3 89 C620.8 91.1 616 93.9 614 93.8 C612 93.7 607.7 89.4 607.4 88 C607.1 86.6 609.9 84 611.5 83 C613.1 82 617.7 81.3 619.5 80.6Z" fill="#d9e021" stroke="#111111" stroke-width="1"/>
<path d="M574.9 64.8 C575.5 64.1 583.3 64.3 584.2 65.7 C585.1 67.1 588 83.6 587.9 85.2 C587.8 86.8 584.2 89.6 583.3 89 C582.4 88.4 575.5 77.6 574.9 76 C574.3 74.4 574.3 65.5 574.9 64.8Z" fill="#f7931e" stroke="#111111" stroke-width="1"/>
<path d="M605.6 66.3 C606.4 65.2 615.2 66.8 615.8 67.6 C616.4 68.4 615.5 76.4 614.9 77.8 C614.3 79.2 608.1 87.6 607.4 88 C606.7 88.4 603.8 85.7 603.7 84.3 C603.6 82.9 604.8 67.4 605.6 66.3Z" fill="#f7931e" stroke="#111111" stroke-width="1"/>
<path d="M584.2 65.7 C584.8 65.1 593.7 64 594.4 64.4 C595.1 64.8 595 70.7 594.4 71.3 C593.8 71.9 586.7 73.5 586 73.1 C585.3 72.7 583.6 66.3 584.2 65.7Z" fill="#ccb52e" stroke="#111111" stroke-width="1"/>
<path d="M586 73.1 C586.4 72.2 593.8 70.6 594.4 71.3 C595 72 595.7 83.4 595.3 84.3 C594.9 85.2 588.5 85.9 587.9 85.2 C587.3 84.5 585.6 74 586 73.1Z" fill="#ecc296" stroke="#111111" stroke-width="1"/>
<path d="M596.3 64.8 C596.9 63.6 604.2 64.4 604.7 65.7 C605.2 67 603.8 83.1 603.2 84.3 C602.6 85.5 596.8 85.6 596.3 84.3 C595.8 83 595.7 66 596.3 64.8Z" fill="#ecc296" stroke="#111111" stroke-width="1"/>
<path d="M586 87.3 C586.3 86.7 589.4 85.3 590.5 85 C591.6 84.7 594.1 84.3 595.3 84.3 C596.5 84.3 599.8 84.6 601 85 C602.2 85.4 605.3 87.1 605.6 87.7 C605.9 88.3 605.8 89.7 603.7 90 C601.6 90.3 590 90.3 587.9 90 C585.8 89.7 585.7 87.9 586 87.3Z" fill="#1b75bc" stroke="#111111" stroke-width="1"/>
<path d="M566.8 66 C567.2 64.2 567.1 58.6 569.5 55 C571.9 51.4 576.8 46.6 581.4 44.3 C586 42 592.2 40.9 597.2 41 C602.2 41.1 607 42.8 611.2 45.2 C615.4 47.6 620 52.1 622.3 55.5 C624.6 58.9 624.4 63.8 624.8 65.5 L615.8 67.5 L574 63Z" fill="#8cc63f" stroke="#111111" stroke-width="1"/>
<path d="M574 62.9 C573.9 62.1 581.9 53.5 583.3 52.7 C584.7 51.9 593.7 50.7 595.3 50.8 C596.9 50.9 606 53.4 607.4 54.5 C608.8 55.6 616 66.3 615.8 67 C615.6 67.7 606.1 65.7 604.7 65.5 C603.3 65.3 596.7 64.6 595.3 64.6 C593.9 64.6 585.6 65.4 584.2 65.3 C582.8 65.2 574.1 63.7 574 62.9Z" fill="#0f9749" stroke="#111111" stroke-width="1"/>
<path d="M581.4 44.3 L583.3 52.7" fill="none" stroke="#111111" stroke-width="1"/>
<path d="M594.4 41.3 L595.3 50.8" fill="none" stroke="#111111" stroke-width="1"/>
<path d="M611.2 45.2 L607.4 54.5" fill="none" stroke="#111111" stroke-width="1"/>
<path d="M583.3 52.7 L587 65" fill="none" stroke="#111111" stroke-width="1"/>
<path d="M595.3 50.8 L595.3 64.8" fill="none" stroke="#111111" stroke-width="1"/>
<path d="M607.4 54.5 L604.7 65.5" fill="none" stroke="#111111" stroke-width="1"/>
</g>
<g id="e9">
<path d="M684.3 106 C687.5 104.6 699.9 104.6 703 106 C706.1 107.4 703.1 111.7 703.2 114.3 C703.3 116.9 703.3 118.3 703.4 121.5 C703.5 124.7 703.4 129.6 703.7 133.2 C704 136.8 704.8 139.6 705 143 C705.2 146.4 704.7 150 704.7 153.7 C704.7 157.4 705.2 161.3 705 165 C704.8 168.7 703 172.4 703.7 175.7 C704.4 179 707.7 181.4 709 185 C710.3 188.6 711.2 193 711.4 197 C711.6 201 710.7 205.4 710 209 C709.3 212.6 707.4 215.5 707.3 218.7 C707.1 221.9 708.3 224.1 709.1 228 C709.9 231.9 710.8 237.4 711.9 242 C713 246.6 714.6 251.2 716 255.8 C717.4 260.4 719.4 265.2 720.2 269.8 C721 274.4 721.1 279.1 721 283.7 C720.9 288.3 720.4 294 719.8 297.7 C719.2 301.4 718.4 303.9 717.4 306 C716.4 308.1 714.8 309.9 713.5 310 C712.2 310.1 710.9 308.6 709.8 306.5 C708.7 304.4 707.6 301.5 706.8 297.7 C706 293.9 705.7 288.3 704.9 283.7 C704.1 279.1 703.3 274.4 702.1 269.8 C700.9 265.2 699.3 260.4 697.9 255.8 C696.5 251.2 694.9 246.6 693.7 242 C692.5 237.4 691.5 231.9 690.9 228 C690.3 224.1 691 222.2 689.9 218.7 C688.8 215.2 685.6 210.6 684.5 207 C683.4 203.4 683.3 200.7 683.2 197 C683.1 193.3 683.6 188.6 684 185 C684.4 181.4 685.9 179 685.8 175.7 C685.7 172.4 683.8 168.7 683.5 165 C683.2 161.3 683.9 157.4 683.8 153.7 C683.7 150 683.1 146.4 683 143 C682.9 139.6 683.1 136.8 683.2 133.2 C683.3 129.6 683.7 124.7 683.8 121.5 C683.9 118.3 683.9 116.9 684 114.3 C684.1 111.7 681.1 107.4 684.3 106Z" fill="#c69c6d" stroke="#111111" stroke-width="1"/>
<path d="M684 114.3 Q693.6 116.5 703.2 114.3" fill="none" stroke="#111111" stroke-width="1"/>
<path d="M683.8 121.5 Q693.6 123.7 703.4 121.5" fill="none" stroke="#111111" stroke-width="1"/>
<path d="M683.2 133.2 Q693.5 135.4 703.7 133.2" fill="none" stroke="#111111" stroke-width="1"/>
<path d="M683.8 153.7 Q694.2 155.9 704.7 153.7" fill="none" stroke="#111111" stroke-width="1"/>
<path d="M685.8 175.7 Q694.8 177.9 703.7 175.7" fill="none" stroke="#111111" stroke-width="1"/>
<path d="M689.9 218.7 Q698.6 220.9 707.3 218.7" fill="none" stroke="#111111" stroke-width="1"/>
<path d="M678.7 93.9 C679.5 93 681.6 91.8 683 91.5 C684.4 91.2 686 91.4 688.3 91.8 C690.6 92.2 695.9 93.6 698.5 94.3 C701.1 95 704.2 95.5 705.6 96.5 C707 97.5 708 99.8 708.1 101 C708.2 102.2 707 103.8 706.2 104.8 C705.4 105.8 704.8 107 703 107.4 C701.2 107.8 696.8 107.4 694 107.3 C691.2 107.2 686.5 107.5 684.4 106.7 C682.3 105.9 681 103.5 680 102.2 C679 100.9 678.2 99 678 97.8 C677.8 96.6 678 94.8 678.7 93.9Z" fill="#2b3990" stroke="#111111" stroke-width="1"/>
<path d="M666 65 C665.6 60.2 666 58.1 667.5 55 C669 51.9 671.6 48.8 675 46.5 C678.4 44.2 683.3 42.5 688 41.5 C692.7 40.5 698.3 40.4 703 40.8 C707.7 41.2 712.5 42.4 716 44 C719.5 45.6 722.1 48.1 724 50.5 C725.9 52.9 726.7 55.6 727.4 58.5 C728.1 61.4 728 64.6 728 68 C728 71.4 728 75.3 727.3 79 C726.5 82.7 725.4 87.2 723.5 90 C721.6 92.8 718.9 95.2 716 95.5 C713.1 95.8 710.3 93.6 706 92 C701.7 90.4 695 87 690 86 C685 85 679.3 86.3 676 86 C672.7 85.7 671.7 87.5 670 84 C668.3 80.5 666.4 69.8 666 65Z" fill="#d9e021" stroke="#111111" stroke-width="1"/>
<path d="M680 43.5 C681.3 43.2 684.2 42 688 41.5 C691.8 41 698.3 40.4 703 40.8 C707.7 41.2 712.5 42.4 716 44 C719.5 45.6 722.1 48.1 724 50.5 C725.9 52.9 726.7 55.8 727.4 58.5 C728.1 61.2 727.9 65.2 728 66.5 L690 66.5Z" fill="#8cc63f" stroke="#111111" stroke-width="1"/>
<path d="M664 65 C663.2 60.2 664 58.1 665.5 55 C667 51.9 669.6 48.8 673 46.5 C676.4 44.2 681.3 42.5 686 41.5 C690.7 40.5 696.4 40.4 701 40.8 C705.6 41.2 710.1 42.4 713.5 44 C716.9 45.6 719.6 48.1 721.5 50.5 C723.4 52.9 724 55.6 724.6 58.5 C725.2 61.4 725.2 64.6 725.2 68 C725.2 71.4 725.2 75.3 724.5 79 C723.8 82.7 722.8 87.2 721 90 C719.2 92.8 716.5 95.2 714 95.5 C711.5 95.8 710 93.6 706 92 C702 90.4 695 87 690 86 C685 85 679.3 86.3 676 86 C672.7 85.7 672 87.5 670 84 C668 80.5 664.8 69.8 664 65Z" fill="#d9e021" stroke="#111111" stroke-width="1"/>
<path d="M680 43 C681 42.8 682.5 41.9 686 41.5 C689.5 41.1 696.4 40.4 701 40.8 C705.6 41.2 710.1 42.4 713.5 44 C716.9 45.6 719.6 48.1 721.5 50.5 C723.4 52.9 724 55.8 724.6 58.5 C725.2 61.2 725.1 65.2 725.2 66.5 L690 66.5Z" fill="#8cc63f" stroke="#111111" stroke-width="1"/>
<path d="M720.5 82 L727.6 81" fill="none" stroke="#111111" stroke-width="1"/>
<path d="M660.6 66.2 C661.5 64.7 667.6 65.3 668.8 67 C670 68.7 670 77.2 669.7 79.2 C669.4 81.2 667.5 82 666.5 81.8 C665.5 81.6 662.8 80 662 77.9 C661.2 75.8 659.7 67.7 660.6 66.2Z" fill="#d9e021" stroke="#111111" stroke-width="1"/>
<path d="M666.5 81.8 C666.8 80.3 669.2 79.7 670.4 79.6 C671.6 79.5 674.3 79.6 675.5 81.4 C676.7 83.2 679.5 91.3 679.3 93.3 C679.1 95.3 675.7 96.8 674.2 96.5 C672.7 96.2 668.8 92.7 667.8 90.7 C666.8 88.7 666.2 83.3 666.5 81.8Z" fill="#d9e021" stroke="#111111" stroke-width="1"/>
<path d="M712 67 C712.9 65.3 720.7 64.9 721.6 66.4 C722.5 67.9 722.1 80.1 721.2 81.8 C720.3 83.5 713.5 84.5 712.6 83 C711.7 81.5 711.1 68.7 712 67Z" fill="#d9e021" stroke="#111111" stroke-width="1"/>
<path d="M712 83 C713.5 82.3 720.1 80.9 720.9 82.4 C721.7 83.9 719 92.5 717.7 94.6 C716.4 96.7 712.9 98.3 711.3 98.4 C709.7 98.5 705.8 96.6 705.6 95.2 C705.4 93.8 708.6 89.6 709.5 88 C710.4 86.4 710.5 83.7 712 83Z" fill="#d9e021" stroke="#111111" stroke-width="1"/>
<path d="M668.8 67.5 C669.5 66.5 678.4 65.9 679.3 66.8 C680.2 67.7 680.3 76.7 680 77.9 C679.7 79.1 676.3 81.2 675.5 81.3 C674.7 81.4 671 80.6 670.4 79.4 C669.8 78.2 668.1 68.5 668.8 67.5Z" fill="#f15a24" stroke="#111111" stroke-width="1"/>
<path d="M675.5 81.3 C675.6 80.3 680.1 77.3 680.6 77.9 C681.1 78.5 682.6 89.1 682.5 90.1 C682.4 91.1 679.8 93.8 679.3 93.2 C678.8 92.6 675.4 82.3 675.5 81.3Z" fill="#f7931e" stroke="#111111" stroke-width="1"/>
<path d="M701.7 68 C702.4 67.1 710.8 66 711.5 66.8 C712.2 67.6 712.7 78.5 712 79.4 C711.3 80.3 702.4 80.8 701.7 80 C701 79.2 701 68.9 701.7 68Z" fill="#f15a24" stroke="#111111" stroke-width="1"/>
<path d="M701.3 80.3 C702 79.6 711.1 79.5 711.6 80 C712.1 80.5 709.9 87 709.5 88 C709.1 89 706.2 94.7 705.6 94.8 C705 94.9 700.7 91.1 700.4 90.1 C700.1 89.1 700.6 81 701.3 80.3Z" fill="#f7931e" stroke="#111111" stroke-width="1"/>
<path d="M679.6 66.8 C680.3 65.8 687.9 64.5 688.7 65.1 C689.5 65.7 689.6 73.1 688.9 74.1 C688.2 75.1 681.4 77.4 680.6 76.8 C679.8 76.2 678.9 67.8 679.6 66.8Z" fill="#ccb52e" stroke="#111111" stroke-width="1"/>
<path d="M688.9 65.1 C689.7 64.4 697.5 65.5 698.5 65.8 C699.5 66.1 701.1 67.5 701.3 68.3 C701.5 69.1 702.1 74.4 701.1 74.9 C700.1 75.4 690.2 75.1 689.2 74.3 C688.2 73.5 688.1 65.8 688.9 65.1Z" fill="#ccb52e" stroke="#111111" stroke-width="1"/>
<path d="M680.6 77.3 C681 76.3 688.3 73.8 688.9 74.5 C689.5 75.2 689.2 87.2 688.9 88.2 C688.6 89.2 684.2 90 683.8 90.1 C683.4 90.2 682.7 90.3 682.5 89.4 C682.3 88.5 680.2 78.3 680.6 77.3Z" fill="#ecc296" stroke="#111111" stroke-width="1"/>
<path d="M689.8 74.7 C690.6 73.8 700.4 74.2 701.1 75.1 C701.8 76 700.5 86.5 700.4 87.5 C700.3 88.5 699.9 90.2 699.2 90.3 C698.5 90.4 690.4 89.4 689.8 88.4 C689.2 87.4 689 75.6 689.8 74.7Z" fill="#ecc296" stroke="#111111" stroke-width="1"/>
<path d="M680.2 93.6 C680.1 93.3 681.1 91.1 682.5 90.3 C683.9 89.5 687.1 88.4 689.6 88.4 C692.1 88.4 696.9 89.4 699.2 90.5 C701.5 91.6 705.3 95.2 705.2 95.8 C705.1 96.4 701 95.3 698.5 94.8 C696 94.3 690.6 92.8 688.3 92.4 C686 92 684.2 92.2 683 92.4 C681.8 92.6 680.3 93.9 680.2 93.6Z" fill="#1b75bc" stroke="#111111" stroke-width="1"/>
<path d="M660.8 65.5 C660.9 64.1 660.8 59.8 661.5 57.3 C662.2 54.8 663.8 52.6 665.2 50.8 C666.6 48.9 668.3 47.4 669.9 46.2 C671.5 45 673 44.4 675 43.6 C677 42.8 679 41.9 682 41.4 C685 40.9 689.5 40.5 693.1 40.5 C696.7 40.5 700.5 40.7 703.4 41.2 C706.3 41.7 708.6 42.5 710.8 43.6 C713 44.7 715 46.1 716.5 48 C718 49.9 719.2 52 720.1 55 C721 58 721.7 63.9 722 65.7 L711.7 66.5 L669 66Z" fill="#8cc63f" stroke="#111111" stroke-width="1"/>
<path d="M669 65.6 C668.2 64.9 669.8 59.3 670.3 58.3 C670.8 57.3 674.2 54.4 675 54.1 C675.8 53.8 678.7 55.2 679.7 55 C680.7 54.8 685.2 51.9 686.6 51.7 C688 51.5 695 52.8 695.9 53.1 C696.8 53.4 696.1 55.4 696.9 55.5 C697.7 55.6 704.5 54.2 705.7 54.5 C706.9 54.8 711.3 58.1 711.7 58.7 C712.1 59.3 710.8 61.4 710.8 62 C710.8 62.6 713 66 712.2 66.4 C711.4 66.8 702.9 67.4 701.5 67.3 C700.1 67.2 697 65.6 695.9 65.4 C694.8 65.2 689.9 64.7 688.5 64.8 C687.1 64.9 681.3 66.1 679.7 66.2 C678.1 66.3 669.8 66.3 669 65.6Z" fill="#0f9749" stroke="#111111" stroke-width="1"/>
<path d="M679.7 55 L679.7 66" fill="none" stroke="#111111" stroke-width="1"/>
<path d="M688.3 52.2 L688.6 64.8" fill="none" stroke="#111111" stroke-width="1"/>
<path d="M696.9 55.5 L695.9 65.4" fill="none" stroke="#111111" stroke-width="1"/>
<path d="M664.8 53.6 L670.3 58.3" fill="none" stroke="#111111" stroke-width="1"/>
<path d="M674.5 44 L675 54.1" fill="none" stroke="#111111" stroke-width="1"/>
<path d="M685.9 41 L686.6 51.7" fill="none" stroke="#111111" stroke-width="1"/>
<path d="M695.7 40.6 L695.9 53.1" fill="none" stroke="#111111" stroke-width="1"/>
<path d="M704.6 41.6 L705.7 54.5" fill="none" stroke="#111111" stroke-width="1"/>
<path d="M710.8 44 L714.5 52.7 L711.7 58.7" fill="none" stroke="#111111" stroke-width="1"/>
<path d="M714.5 52.7 L720.4 56.5" fill="none" stroke="#111111" stroke-width="1"/>
<path d="M675 43.6 C676.5 43.8 680.5 44.6 684 44.6 C687.5 44.6 692.3 43.8 695.7 43.8 C699.1 43.8 702 44.2 704.6 44.8 C707.2 45.4 710.4 46.9 711.5 47.3" fill="none" stroke="#111111" stroke-width="1"/>
</g>
<g id="e10">
<path d="M808.6 127.5 C811.1 126.5 821.9 126.6 824.4 127.5 C826.9 128.4 825.2 131.7 825.3 133.5 C825.4 135.3 827.5 138.6 825 139.7 C822.5 140.8 810.9 141.9 808.3 141 C805.7 140.1 807.8 136 807.8 134 C807.8 132 806.1 128.5 808.6 127.5Z" fill="#c69c6d" stroke="#111111" stroke-width="1"/>
<path d="M808 141.2 C810.6 140 822.3 139.2 825 139.9 C827.7 140.6 826.1 144.1 826.2 146 C826.3 147.9 828.2 151.6 825.6 152.8 C823 154 811.5 154.7 808.8 154 C806.1 153.3 807.7 149.9 807.6 148 C807.5 146.1 805.4 142.4 808 141.2Z" fill="#c69c6d" stroke="#111111" stroke-width="1"/>
<path d="M808.8 154.2 C811.2 153 822.8 152.2 825.4 152.9 C828 153.6 826 157.1 825.9 159 C825.8 160.9 827.2 164.4 825 165.6 C822.8 166.8 813.4 167.7 811 167 C808.6 166.3 809.5 162.9 809.2 161 C808.9 159.1 806.4 155.4 808.8 154.2Z" fill="#c69c6d" stroke="#111111" stroke-width="1"/>
<path d="M811 167.2 C813.2 165.8 823 164.7 825.4 165.9 C827.8 167.1 827.1 172.7 827 175 C826.9 177.3 826 180 824.6 181 C823.2 182 819.7 181.7 818 181.5 C816.3 181.3 814.3 180.9 813.2 180 C812.1 179.1 811.1 177.2 810.8 175.3 C810.5 173.4 808.8 168.6 811 167.2Z" fill="#c69c6d" stroke="#111111" stroke-width="1"/>
<path d="M772 64.4 C771.9 61.2 771.7 58.7 772.7 55.5 C773.7 52.3 775.7 47.7 777.8 45.2 C779.9 42.7 782.8 41.3 785.5 40.4 C788.2 39.5 791 40 794 40 C797 40 800.7 40.3 803.4 40.6 C806.1 40.9 807.9 41.4 810 41.8 C812.1 42.2 813.7 43 816.2 43.1 C818.7 43.2 822 42.6 825 42.3 C828 42 830.9 41.7 834.1 41.4 C837.3 41.1 841.1 40 844.3 40.4 C847.5 40.8 850.8 41.9 853.3 44 C855.8 46.1 857.7 49.5 859 52.9 C860.3 56.3 860.8 60.4 860.9 64.4 C861 68.5 860.2 74.4 859.7 77.2 C859.2 80 858.6 79.2 857.9 81.5 C857.2 83.8 856.7 88.7 855.7 91.2 C854.7 93.7 853.3 94.2 851.9 96.6 C850.5 99 848.8 102.9 847.4 105.5 C846 108.1 845.5 110.5 843.6 112.3 C841.7 114.1 837.6 115.5 836 116.3 C834.4 117 835.3 115.2 833.8 116.8 C832.3 118.4 829 123.9 827 125.9 C825 127.9 824.7 128.5 821.7 128.9 C818.7 129.3 811.4 128.7 808.8 128.2 C806.1 127.7 807.3 128 805.8 125.9 C804.3 123.8 801.2 117.1 799.8 115.5 C798.4 113.9 799 117.1 797.5 116.1 C796 115.1 793 112.3 790.7 109.3 C788.4 106.3 786 101.5 783.9 98 C781.8 94.5 779.1 91 777.8 88.1 C776.5 85.2 777 83 776.3 80.8 C775.5 78.6 774 77.4 773.3 74.7 C772.6 72 772.1 67.6 772 64.4Z" fill="#8cc63f" stroke="#111111" stroke-width="1"/>
<clipPath id="c10"><path d="M772 64.4 C771.9 61.2 771.7 58.7 772.7 55.5 C773.7 52.3 775.7 47.7 777.8 45.2 C779.9 42.7 782.8 41.3 785.5 40.4 C788.2 39.5 791 40 794 40 C797 40 800.7 40.3 803.4 40.6 C806.1 40.9 807.9 41.4 810 41.8 C812.1 42.2 813.7 43 816.2 43.1 C818.7 43.2 822 42.6 825 42.3 C828 42 830.9 41.7 834.1 41.4 C837.3 41.1 841.1 40 844.3 40.4 C847.5 40.8 850.8 41.9 853.3 44 C855.8 46.1 857.7 49.5 859 52.9 C860.3 56.3 860.8 60.4 860.9 64.4 C861 68.5 860.2 74.4 859.7 77.2 C859.2 80 858.6 79.2 857.9 81.5 C857.2 83.8 856.7 88.7 855.7 91.2 C854.7 93.7 853.3 94.2 851.9 96.6 C850.5 99 848.8 102.9 847.4 105.5 C846 108.1 845.5 110.5 843.6 112.3 C841.7 114.1 837.6 115.5 836 116.3 C834.4 117 835.3 115.2 833.8 116.8 C832.3 118.4 829 123.9 827 125.9 C825 127.9 824.7 128.5 821.7 128.9 C818.7 129.3 811.4 128.7 808.8 128.2 C806.1 127.7 807.3 128 805.8 125.9 C804.3 123.8 801.2 117.1 799.8 115.5 C798.4 113.9 799 117.1 797.5 116.1 C796 115.1 793 112.3 790.7 109.3 C788.4 106.3 786 101.5 783.9 98 C781.8 94.5 779.1 91 777.8 88.1 C776.5 85.2 777 83 776.3 80.8 C775.5 78.6 774 77.4 773.3 74.7 C772.6 72 772.1 67.6 772 64.4Z"/></clipPath>
<g clip-path="url(#c10)"><path d="M765 82 L776.3 80.6 L783.9 79.6 L790 86.6 L810 100 L810 130 L765 130Z M870 80 L857.9 81.3 L855.7 79.8 L847.4 82.1 L843.6 88 L825 100 L825 130 L870 130Z" fill="#d9e021"/></g>
<path d="M776.3 80.6 C777.1 79.5 782.2 78.8 783.9 79.6 C785.6 80.4 789.3 84.9 789.2 86.6 C789.1 88.3 784.6 92.5 783.1 92.7 C781.6 92.9 778.7 89.7 777.8 88.1 C776.9 86.5 775.5 81.7 776.3 80.6Z" fill="#d9e021" stroke="#111111" stroke-width="1"/>
<path d="M783.1 92.7 C783.8 91.5 787.6 87.8 789.2 88.7 C790.8 89.6 793.4 96.7 795.2 99.5 C797 102.3 802.5 107.8 802.8 110 C803.1 112.2 799.1 116.2 797.5 116.1 C795.9 116 792.5 111.7 790.7 109.3 C788.9 106.9 784.9 100.2 783.9 98 C782.9 95.8 782.4 93.9 783.1 92.7Z" fill="#d9e021" stroke="#111111" stroke-width="1"/>
<path d="M789 106.5 L796.5 101.5" fill="none" stroke="#111111" stroke-width="1"/>
<path d="M847.4 82.1 C849 81 854.3 79.9 855.7 79.8 C857.1 79.7 857.9 79.8 857.9 81.3 C857.9 82.8 856.9 89.5 855.7 91.2 C854.5 92.9 850.5 94.6 848.9 94.2 C847.3 93.8 843.8 89.7 843.6 88.1 C843.4 86.5 845.8 83.2 847.4 82.1Z" fill="#d9e021" stroke="#111111" stroke-width="1"/>
<path d="M840.6 94.9 C842.1 94.1 846.6 94 848.1 94.2 C849.6 94.4 852 95 851.9 96.4 C851.8 97.8 849.1 103.8 847.4 104.8 C845.7 105.8 840.4 104.6 839 104 C837.6 103.4 836.6 101.4 836.8 100.2 C837 99 839.1 95.7 840.6 94.9Z" fill="#d9e021" stroke="#111111" stroke-width="1"/>
<path d="M835.3 104.8 C837.4 104.1 846.3 104.5 847.4 105.5 C848.5 106.5 845.1 110.9 843.6 112.3 C842.1 113.7 837.6 116.3 836 116.1 C834.4 115.9 831.6 112 831.5 110.5 C831.4 109 833.2 105.5 835.3 104.8Z" fill="#d9e021" stroke="#111111" stroke-width="1"/>
<path d="M772.7 65.1 L781 65.4" fill="none" stroke="#111111" stroke-width="1"/>
<path d="M776.5 80.6 L782.3 78.5" fill="none" stroke="#111111" stroke-width="1"/>
<path d="M850.1 68.5 L859.7 68" fill="none" stroke="#111111" stroke-width="1"/>
<path d="M850.1 77.2 L853.3 79.3 L859 78.5" fill="none" stroke="#111111" stroke-width="1"/>
<path d="M781 65.1 C781.1 64.3 783.5 56.4 784.2 55.5 C784.9 54.6 789.8 51.7 791.2 51.4 C792.6 51.1 803.6 50.6 805.3 50.6 C807 50.6 814.9 50.9 816.8 51 C818.7 51.1 831.4 51.8 833.4 51.9 C835.4 52 845.2 51.8 846.2 52.3 C847.2 52.8 848.2 58.9 848.5 60 C848.8 61.1 850.2 67.6 850.1 68.3 C850 69 847.9 70.5 846.9 70.8 C845.9 71.1 835.9 72.9 834.7 72.7 C833.5 72.5 830.2 68.7 829 68.3 C827.8 67.9 817.7 67.4 816 67.4 C814.3 67.4 804.6 67.4 803.6 67.8 C802.6 68.2 801.1 73.1 800.4 73.2 C799.7 73.3 794.3 69.9 793.1 69.5 C791.9 69.1 783.1 67.3 782.3 67 C781.5 66.7 780.9 65.9 781 65.1Z" fill="#0f9749" stroke="#111111" stroke-width="1"/>
<path d="M791.2 51.4 L793.1 69.5" fill="none" stroke="#111111" stroke-width="1"/>
<path d="M802.1 55.5 L803.4 67.8" fill="none" stroke="#111111" stroke-width="1"/>
<path d="M802.1 58 L816.2 58.7" fill="none" stroke="#111111" stroke-width="1"/>
<path d="M816.8 51 L816.2 67.4" fill="none" stroke="#111111" stroke-width="1"/>
<path d="M833.4 51.9 L828.3 62 L829 68.3" fill="none" stroke="#111111" stroke-width="1"/>
<path d="M837.9 54.2 L841.7 62 L840.5 71.6" fill="none" stroke="#111111" stroke-width="1"/>
<path d="M777.8 49.1 L784.2 55.5" fill="none" stroke="#111111" stroke-width="1"/>
<path d="M792.5 40.4 L791.2 51.4" fill="none" stroke="#111111" stroke-width="1"/>
<path d="M805.9 41.2 L805.3 50.6" fill="none" stroke="#111111" stroke-width="1"/>
<path d="M816.4 43.3 L816.8 51" fill="none" stroke="#111111" stroke-width="1"/>
<path d="M833.6 41.6 L833.4 51.9" fill="none" stroke="#111111" stroke-width="1"/>
<path d="M849.4 42.5 L846.2 52.3" fill="none" stroke="#111111" stroke-width="1"/>
<path d="M782.3 67.3 C783 66.5 791.6 69.3 793.1 69.8 C794.6 70.3 799.3 72.4 800.2 73.4 C801.1 74.4 803.4 81.4 803.4 82.3 C803.4 83.2 801.6 84 800.5 84.4 C799.4 84.8 791.3 87 789.9 86.6 C788.5 86.1 784.8 80.6 784.2 79 C783.6 77.4 781.6 68.1 782.3 67.3Z" fill="#f15a24" stroke="#111111" stroke-width="1"/>
<path d="M791.2 69.5 L795.7 85.3" fill="none" stroke="#111111" stroke-width="1"/>
<path d="M834.7 73.1 C835.9 72.8 845.6 70.8 846.9 71.1 C848.2 71.4 850.1 76.3 850.1 77.2 C850.1 78.1 847.9 81.2 847.4 82.1 C846.9 83 844.3 87.8 843.6 88.3 C842.9 88.8 840 88 839 88.1 C838 88.1 832.8 89.4 832.2 88.9 C831.6 88.4 831.5 83.5 831.5 82.3 C831.5 81.1 832.5 75.8 832.8 75 C833.1 74.2 833.5 73.4 834.7 73.1Z" fill="#f15a24" stroke="#111111" stroke-width="1"/>
<path d="M840.5 72 L838.5 88.2" fill="none" stroke="#111111" stroke-width="1"/>
<path d="M789.9 86.6 C790.3 85.3 799.4 83.6 800.5 84.4 C801.6 85.2 803.1 94.2 803.5 96 C803.9 97.8 805.9 104.3 805.8 105.5 C805.7 106.7 803.6 110.3 802.8 109.8 C802 109.3 797.1 101.4 796 99.5 C794.9 97.6 789.5 87.9 789.9 86.6Z" fill="#f7931e" stroke="#111111" stroke-width="1"/>
<path d="M832.2 88.9 C832.8 88.5 838.3 87.7 839 88.1 C839.7 88.5 840.8 93.2 840.6 94.2 C840.4 95.2 837.6 98.9 836.8 100.2 C836 101.5 832.3 109.5 831.5 110 C830.7 110.5 827.2 107.4 827.3 106 C827.4 104.6 831.8 94.8 832.2 93.4 C832.6 92 831.6 89.3 832.2 88.9Z" fill="#f7931e" stroke="#111111" stroke-width="1"/>
<path d="M800.2 73.4 C800.2 72 802.6 68.8 803.4 68.3 C804.2 67.8 807.9 67 808.5 68 C809.1 69 810.3 76.5 809.8 77.9 C809.3 79.3 804.4 82.4 803.4 81.9 C802.4 81.5 800.2 74.8 800.2 73.4Z" fill="#ccb52e" stroke="#111111" stroke-width="1"/>
<path d="M808.5 68 C809.1 67 814.7 66.7 815.5 67.6 C816.3 68.5 816.8 76.2 816.2 77.2 C815.6 78.2 810.6 78.8 809.8 77.9 C809 77 807.9 69 808.5 68Z" fill="#ccb52e" stroke="#111111" stroke-width="1"/>
<path d="M816.4 67.6 C817 66.7 822.5 67 823.2 68 C823.9 69 824.4 77 823.8 77.9 C823.1 78.8 817.4 78.2 816.7 77.2 C816 76.2 815.8 68.5 816.4 67.6Z" fill="#ccb52e" stroke="#111111" stroke-width="1"/>
<path d="M823.8 68 C824.2 67 828.1 67.8 829 68.5 C829.9 69.2 832.5 73.4 832.8 74.7 C833 76 832.3 81.6 831.5 81.9 C830.7 82.2 825.3 79.6 824.5 78.2 C823.7 76.8 823.3 69 823.8 68Z" fill="#ccb52e" stroke="#111111" stroke-width="1"/>
<path d="M801.3 84 C801.1 82.1 803 82.5 803.6 82.2 C804.2 81.9 807.6 78.8 808.1 80.4 C808.6 82 809.8 99.7 809.6 101.7 C809.4 103.7 806.8 106.3 806.1 104.8 C805.4 103.3 801.5 85.9 801.3 84Z" fill="#ecc296" stroke="#111111" stroke-width="1"/>
<path d="M808.3 80.4 C808.3 78.4 809.2 78.4 809.8 78.2 C810.3 78 814.4 75.7 814.9 77.6 C815.4 79.5 816 99 815.6 101 C815.2 103 810.5 103.4 809.9 101.7 C809.3 100 808.3 82.4 808.3 80.4Z" fill="#ecc296" stroke="#111111" stroke-width="1"/>
<path d="M815.8 77.5 C816.4 75.6 822.9 76.3 823.4 78.4 C823.9 80.5 823 100.6 822.4 102.5 C821.8 104.4 816.6 103.5 816.1 101.4 C815.6 99.3 815.2 79.4 815.8 77.5Z" fill="#ecc296" stroke="#111111" stroke-width="1"/>
<path d="M823.9 79 C824.6 77.3 830.6 81.2 831.3 82.3 C832 83.4 832.6 90.8 832.2 92.7 C831.8 94.6 827.8 104.7 827 105.5 C826.2 106.3 823.2 105.1 822.9 102.9 C822.6 100.7 823.2 80.7 823.9 79Z" fill="#ecc296" stroke="#111111" stroke-width="1"/>
<path d="M805 109.6 C804.1 108.5 807.2 105.9 808.8 104.8 C810.4 103.7 813.4 102.7 815.6 102.5 C817.8 102.3 821.5 102.7 823.2 103.5 C824.9 104.3 826.7 106.7 827 107.8 C827.3 108.9 827.2 110.2 825.4 110.8 C823.6 111.4 818 112 814.9 111.8 C811.8 111.6 805.9 110.6 805 109.6Z" fill="#1b75bc" stroke="#111111" stroke-width="1"/>
<path d="M799.8 115.3 C799.7 114.2 803.6 110.2 804.6 110 C805.6 109.8 813.5 111.9 814.9 112 C816.3 112.1 825.1 110.8 826.2 110.8 C827.3 110.8 830.2 111.2 830.7 111.6 C831.2 112 834 115.8 833.8 116.8 C833.6 117.8 827.8 125.1 827 125.9 C826.2 126.7 822.9 128.7 821.7 128.9 C820.5 129.1 809.9 128.4 808.8 128.2 C807.7 128 806.4 126.8 805.8 125.9 C805.2 125 799.9 116.4 799.8 115.3Z" fill="#2b3990" stroke="#111111" stroke-width="1"/>
<path d="M822.4 111.3 C822 112.8 820.4 117.1 820.2 120 C820 122.9 820.9 127.3 821 128.8" fill="none" stroke="#111111" stroke-width="1"/>
<path d="M772 64.4 C771.9 61.2 771.7 58.7 772.7 55.5 C773.7 52.3 775.7 47.7 777.8 45.2 C779.9 42.7 782.8 41.3 785.5 40.4 C788.2 39.5 791 40 794 40 C797 40 800.7 40.3 803.4 40.6 C806.1 40.9 807.9 41.4 810 41.8 C812.1 42.2 813.7 43 816.2 43.1 C818.7 43.2 822 42.6 825 42.3 C828 42 830.9 41.7 834.1 41.4 C837.3 41.1 841.1 40 844.3 40.4 C847.5 40.8 850.8 41.9 853.3 44 C855.8 46.1 857.7 49.5 859 52.9 C860.3 56.3 860.8 60.4 860.9 64.4 C861 68.5 860.2 74.4 859.7 77.2 C859.2 80 858.6 79.2 857.9 81.5 C857.2 83.8 856.7 88.7 855.7 91.2 C854.7 93.7 853.3 94.2 851.9 96.6 C850.5 99 848.8 102.9 847.4 105.5 C846 108.1 845.5 110.5 843.6 112.3 C841.7 114.1 837.6 115.5 836 116.3 C834.4 117 835.3 115.2 833.8 116.8 C832.3 118.4 829 123.9 827 125.9 C825 127.9 824.7 128.5 821.7 128.9 C818.7 129.3 811.4 128.7 808.8 128.2 C806.1 127.7 807.3 128 805.8 125.9 C804.3 123.8 801.2 117.1 799.8 115.5 C798.4 113.9 799 117.1 797.5 116.1 C796 115.1 793 112.3 790.7 109.3 C788.4 106.3 786 101.5 783.9 98 C781.8 94.5 779.1 91 777.8 88.1 C776.5 85.2 777 83 776.3 80.8 C775.5 78.6 774 77.4 773.3 74.7 C772.6 72 772.1 67.6 772 64.4Z" fill="none" stroke="#111111" stroke-width="1"/>
</g>
<g id="e11">
<path d="M926.6 137.2 C928.7 135.9 945.3 134.4 947.3 135.5 C949.3 136.6 946.6 145.9 946.5 148.2 C946.4 150.5 946.3 156.3 946.1 158.5 C945.9 160.7 945.5 169.1 944.9 170.2 C944.3 171.2 941.1 169.4 940 169 C938.9 168.6 935.2 167.3 933.9 166.6 C932.6 165.9 927.4 163.5 926.6 161.7 C925.8 159.9 926.3 150.6 926.3 148.2 C926.3 145.8 924.5 138.5 926.6 137.2Z" fill="#c69c6d" stroke="#111111" stroke-width="1"/>
<path d="M926.3 148.2 L946.5 147.8" fill="none" stroke="#111111" stroke-width="1"/>
<path d="M926.6 161.7 L946.1 158.3" fill="none" stroke="#111111" stroke-width="1"/>
<path d="M938.3 136.5 L938.3 148" fill="none" stroke="#111111" stroke-width="1"/>
<path d="M890.1 74.5 C889.9 69.8 889.9 66.9 890.6 62.9 C891.3 58.9 892.2 53.9 894.3 50.5 C896.4 47.1 899.5 44.2 903 42.5 C906.5 40.8 911.2 40.2 915.2 40.1 C919.2 40 923.8 41.2 926.9 42 C930 42.8 931.9 43.8 934 44.6 C936.1 45.4 937.7 46.7 939.7 46.8 C941.7 46.9 943.9 45.6 946 45 C948.1 44.4 949.4 43.7 952.4 43.1 C955.4 42.5 960.2 41.4 964.1 41.5 C968 41.6 972.3 42.2 975.5 44 C978.7 45.8 981.6 48.5 983.3 52 C985 55.5 985.4 60.3 985.5 65.2 C985.6 70.1 984.8 76.8 983.8 81.5 C982.8 86.2 981.6 88.8 979.6 93.1 C977.6 97.4 974.8 102.8 972 107.1 C969.2 111.4 966.2 115.3 963 118.7 C959.8 122.1 955.4 124.5 953 127.2 C950.6 129.9 951.2 133.3 948.6 134.8 C946 136.3 941.3 135.8 937.6 136.2 C933.9 136.6 929.2 137.6 926.6 137.2 C924 136.8 922.8 134.9 921.7 133.6 C920.6 132.3 921.5 130.4 920 129.2 C918.5 128 915 128.6 912.5 126.5 C910 124.4 907.5 120.4 905 116.8 C902.5 113.2 899.4 109.3 897.2 105 C895 100.7 893 95.9 891.8 90.8 C890.6 85.7 890.3 79.2 890.1 74.5Z" fill="#8cc63f" stroke="#111111" stroke-width="1"/>
<clipPath id="c11"><path d="M890.1 74.5 C889.9 69.8 889.9 66.9 890.6 62.9 C891.3 58.9 892.2 53.9 894.3 50.5 C896.4 47.1 899.5 44.2 903 42.5 C906.5 40.8 911.2 40.2 915.2 40.1 C919.2 40 923.8 41.2 926.9 42 C930 42.8 931.9 43.8 934 44.6 C936.1 45.4 937.7 46.7 939.7 46.8 C941.7 46.9 943.9 45.6 946 45 C948.1 44.4 949.4 43.7 952.4 43.1 C955.4 42.5 960.2 41.4 964.1 41.5 C968 41.6 972.3 42.2 975.5 44 C978.7 45.8 981.6 48.5 983.3 52 C985 55.5 985.4 60.3 985.5 65.2 C985.6 70.1 984.8 76.8 983.8 81.5 C982.8 86.2 981.6 88.8 979.6 93.1 C977.6 97.4 974.8 102.8 972 107.1 C969.2 111.4 966.2 115.3 963 118.7 C959.8 122.1 955.4 124.5 953 127.2 C950.6 129.9 951.2 133.3 948.6 134.8 C946 136.3 941.3 135.8 937.6 136.2 C933.9 136.6 929.2 137.6 926.6 137.2 C924 136.8 922.8 134.9 921.7 133.6 C920.6 132.3 921.5 130.4 920 129.2 C918.5 128 915 128.6 912.5 126.5 C910 124.4 907.5 120.4 905 116.8 C902.5 113.2 899.4 109.3 897.2 105 C895 100.7 893 95.9 891.8 90.8 C890.6 85.7 890.3 79.2 890.1 74.5Z"/></clipPath>
<g clip-path="url(#c11)"><path d="M885 96 L902.4 99 L930 110 L972.2 87.3 L990 83 L990 140 L885 140Z" fill="#d9e021"/></g>
<path d="M892.3 96.8 L902.4 99" fill="none" stroke="#111111" stroke-width="1"/>
<path d="M972.2 87.3 L982.3 84.8" fill="none" stroke="#111111" stroke-width="1"/>
<path d="M976 46 C976.8 47.3 979.8 50.7 981 54 C982.2 57.3 983.1 61.7 983.3 66 C983.5 70.3 982.2 77.7 982 80" fill="none" stroke="#111111" stroke-width="1"/>
<path d="M899.3 107.6 L909.4 103.8" fill="none" stroke="#111111" stroke-width="1"/>
<path d="M906.5 117 L917 113" fill="none" stroke="#111111" stroke-width="1"/>
<path d="M913.5 126 L921.3 120" fill="none" stroke="#111111" stroke-width="1"/>
<path d="M902.4 99 L909.4 103.6 L914.1 106 L917 113 L921 119.9 L921.7 122.6" fill="none" stroke="#111111" stroke-width="1"/>
<path d="M975.6 100.3 L965.2 97.8" fill="none" stroke="#111111" stroke-width="1"/>
<path d="M966.5 113.2 L959.4 105.2" fill="none" stroke="#111111" stroke-width="1"/>
<path d="M957 123 L951.3 116.4" fill="none" stroke="#111111" stroke-width="1"/>
<path d="M972.2 87.3 L965.2 97.8 L959.4 105.2 L951.3 116.4 L949.8 120.3" fill="none" stroke="#111111" stroke-width="1"/>
<path d="M901.3 73.6 C900.5 72.6 901.5 64.7 902.4 62.9 C903.3 61.1 908.4 56.7 910.6 55.9 C912.8 55.1 921.6 54.8 924.5 54.8 C927.4 54.8 936.7 55.4 939.7 55.5 C942.7 55.6 951.9 55.3 954.8 55.5 C957.7 55.7 966.7 56.2 968.7 57.1 C970.7 58 974 62.4 974.5 64.1 C975 65.8 975.1 73.1 973.4 74 C971.7 74.9 959.2 73.8 957.1 73.4 C955 73 954 70.4 952.4 69.9 C950.8 69.4 943.3 68.7 940.8 68.7 C938.2 68.7 928.8 69.4 926.9 69.9 C925 70.4 923.8 73.2 922.2 73.4 C920.6 73.7 912.7 72.4 910.6 72.4 C908.5 72.4 902.1 74.5 901.3 73.6Z" fill="#0f9749" stroke="#111111" stroke-width="1"/>
<path d="M901.3 74.5 C901.8 72.7 909.2 72.7 910.6 72.6 C912 72.5 921.3 72.8 922.2 73.6 C923.1 74.4 923.4 83.3 923.4 85 C923.4 86.7 923.3 98.1 922.7 99.5 C922.1 100.9 915 105.7 914.1 106 C913.2 106.3 910.2 104.1 909.4 103.6 C908.6 103.1 902.9 100.9 902.4 99 C901.9 97.1 900.8 76.3 901.3 74.5Z" fill="#f15a24" stroke="#111111" stroke-width="1"/>
<path d="M911 72.8 L915.5 93 L914.3 105.8" fill="none" stroke="#111111" stroke-width="1"/>
<path d="M902 86.5 L913.8 85" fill="none" stroke="#111111" stroke-width="1"/>
<path d="M903.5 97.5 L915.4 93" fill="none" stroke="#111111" stroke-width="1"/>
<path d="M915.5 93 L922.9 90.5" fill="none" stroke="#111111" stroke-width="1"/>
<path d="M953.6 73.6 C953.8 72.8 955.9 73.5 957.1 73.6 C958.3 73.7 971.2 73.6 972.2 74.5 C973.2 75.4 972.7 85.7 972.2 87.3 C971.7 88.9 966.1 96.6 965.2 97.8 C964.3 99 960.3 104.5 959.4 104.8 C958.5 105.1 952.8 103.7 952.4 102.4 C952 101.1 953.5 86.9 953.6 85 C953.7 83.1 953.4 74.4 953.6 73.6Z" fill="#f15a24" stroke="#111111" stroke-width="1"/>
<path d="M963 74 L959 93 L959.4 104.8" fill="none" stroke="#111111" stroke-width="1"/>
<path d="M953.2 92 L959 93" fill="none" stroke="#111111" stroke-width="1"/>
<path d="M960.5 86 L972 87" fill="none" stroke="#111111" stroke-width="1"/>
<path d="M959 93 L966.5 96" fill="none" stroke="#111111" stroke-width="1"/>
<path d="M914.1 106 C914.6 104.9 921.8 99.6 922.7 99.7 C923.6 99.8 924.6 105.7 925 107 C925.4 108.3 928.3 114.1 928 115.2 C927.7 116.3 921.9 120.1 921 119.9 C920.1 119.7 917.6 114.2 917 113 C916.4 111.8 913.6 107.1 914.1 106Z" fill="#f7931e" stroke="#111111" stroke-width="1"/>
<path d="M952 102.9 C952.8 102.7 959.5 104.1 959.4 105.2 C959.3 106.3 952.4 115.8 951.3 116.4 C950.2 117 946 113.6 945.9 112.9 C945.8 112.2 949 108.8 949.5 108 C950 107.2 951.2 103.1 952 102.9Z" fill="#f7931e" stroke="#111111" stroke-width="1"/>
<path d="M922.2 73.6 C922.6 72.1 925 70.4 926.9 69.9 C928.8 69.4 938.2 68.7 940.8 68.7 C943.3 68.7 951.1 69.4 952.4 69.9 C953.7 70.4 953.5 72.2 953.6 73.6 C953.7 75 954.4 83.3 953.6 84.2 C952.8 85.1 947.5 82.9 946 82.6 C944.5 82.3 940 81.5 938.5 81.5 C937 81.5 932 82.6 930.5 83 C929 83.4 924.2 86.1 923.4 85.2 C922.6 84.3 921.9 75.1 922.2 73.6Z" fill="#ccb52e" stroke="#111111" stroke-width="1"/>
<path d="M930.3 69.6 L930.5 83" fill="none" stroke="#111111" stroke-width="1"/>
<path d="M938.5 68.8 L938.5 81.5" fill="none" stroke="#111111" stroke-width="1"/>
<path d="M945.9 69.2 L946 82.6" fill="none" stroke="#111111" stroke-width="1"/>
<path d="M923.4 85.2 C924.2 83.5 929 83.4 930.5 83 C932 82.6 937 81.5 938.5 81.5 C940 81.5 944.6 82.2 946 82.6 C947.4 82.9 952 83 952.6 85 C953.2 87 952.3 99.6 951.6 102.4 C950.9 105.2 946.5 111.7 945.5 112.9 C944.5 114.1 943 113.9 942 114.1 C941 114.3 936.4 114.9 935 115 C933.6 115.1 929.2 116.7 928 115.2 C926.8 113.7 923.2 102.7 922.7 99.7 C922.2 96.7 922.6 86.9 923.4 85.2Z" fill="#ecc296" stroke="#111111" stroke-width="1"/>
<path d="M929.2 84 C929.1 86.7 928.1 94.9 928.5 100 C928.9 105.1 931 112.3 931.5 114.8" fill="none" stroke="#111111" stroke-width="1"/>
<path d="M936.6 82 L936.3 114.6" fill="none" stroke="#111111" stroke-width="1"/>
<path d="M944.3 82.4 C944.2 85.3 944 94.7 943.5 100 C943 105.3 941.8 111.7 941.5 114" fill="none" stroke="#111111" stroke-width="1"/>
<path d="M928.6 94.5 L936.4 94.5" fill="none" stroke="#111111" stroke-width="1"/>
<path d="M936.4 101 L943.4 101" fill="none" stroke="#111111" stroke-width="1"/>
<path d="M928 119.9 C927.9 119.2 930 117.2 931 116.5 C932 115.8 933.4 115.4 935 115 C936.6 114.6 940.3 113.8 942 114.1 C943.7 114.4 945.4 115.8 946.6 116.8 C947.8 117.8 950.5 120.2 950.1 121 C949.7 121.8 945.9 121.8 944 122 C942.1 122.2 939.1 122.8 937.3 122.6 C935.5 122.4 933.4 121.4 932 121 C930.6 120.6 928.1 120.6 928 119.9Z" fill="#1b75bc" stroke="#111111" stroke-width="1"/>
<path d="M920.5 128.7 C920.5 127.6 920.9 123.5 921.7 122.6 C922.5 121.7 926.7 119.6 928.3 119.6 C929.9 119.6 935.5 122.7 937.6 122.8 C939.8 122.9 948.3 120 949.8 120.3 C951.3 120.6 952.3 124.8 952.2 126.2 C952.1 127.7 950.1 133.8 948.6 134.8 C947.1 135.8 939.8 136 937.6 136.2 C935.4 136.4 928.2 137.5 926.6 137.2 C925 136.9 922.3 134.4 921.7 133.6 C921.1 132.8 920.5 129.8 920.5 128.7Z" fill="#2b3990" stroke="#111111" stroke-width="1"/>
<path d="M937.4 122.8 L937.8 136.2" fill="none" stroke="#111111" stroke-width="1"/>
<path d="M895.5 51.3 L902.4 62.9" fill="none" stroke="#111111" stroke-width="1"/>
<path d="M904.8 42.5 L910.6 55.9" fill="none" stroke="#111111" stroke-width="1"/>
<path d="M916 40.2 L918 55.2" fill="none" stroke="#111111" stroke-width="1"/>
<path d="M927.5 42.2 L927.8 55" fill="none" stroke="#111111" stroke-width="1"/>
<path d="M939.7 47.3 L939.7 55.5" fill="none" stroke="#111111" stroke-width="1"/>
<path d="M950.5 43.6 L949 55.5" fill="none" stroke="#111111" stroke-width="1"/>
<path d="M960.5 41.8 L960 56.2" fill="none" stroke="#111111" stroke-width="1"/>
<path d="M971 43 L968.7 57.1" fill="none" stroke="#111111" stroke-width="1"/>
<path d="M974.5 64.1 L984.6 60" fill="none" stroke="#111111" stroke-width="1"/>
<path d="M973.4 74 L984.5 75" fill="none" stroke="#111111" stroke-width="1"/>
<path d="M890.2 72 L901.3 73.6" fill="none" stroke="#111111" stroke-width="1"/>
<path d="M890.6 86.5 L901.8 86.5" fill="none" stroke="#111111" stroke-width="1"/>
<path d="M972.2 74.5 L972.2 87.3" fill="none" stroke="#111111" stroke-width="1"/>
<path d="M902 66.5 C903.7 66.3 908.3 65.9 912 65.5 C915.7 65.1 920.7 64.5 924 64 C927.3 63.5 930.7 62.8 932 62.5" fill="none" stroke="#111111" stroke-width="1"/>
<path d="M912 56 L912 72.4" fill="none" stroke="#111111" stroke-width="1"/>
<path d="M924.5 54.8 L924 64 L926.9 69.9" fill="none" stroke="#111111" stroke-width="1"/>
<path d="M932 55.2 L932 69.2" fill="none" stroke="#111111" stroke-width="1"/>
<path d="M939.7 55.5 L940.5 68.7" fill="none" stroke="#111111" stroke-width="1"/>
<path d="M947.5 55.5 L946.5 69.3" fill="none" stroke="#111111" stroke-width="1"/>
<path d="M954.8 55.5 L952.4 69.9" fill="none" stroke="#111111" stroke-width="1"/>
<path d="M962 56.3 L963.5 73.8" fill="none" stroke="#111111" stroke-width="1"/>
<path d="M954 63 L974 64" fill="none" stroke="#111111" stroke-width="1"/>
<path d="M890.1 74.5 C889.9 69.8 889.9 66.9 890.6 62.9 C891.3 58.9 892.2 53.9 894.3 50.5 C896.4 47.1 899.5 44.2 903 42.5 C906.5 40.8 911.2 40.2 915.2 40.1 C919.2 40 923.8 41.2 926.9 42 C930 42.8 931.9 43.8 934 44.6 C936.1 45.4 937.7 46.7 939.7 46.8 C941.7 46.9 943.9 45.6 946 45 C948.1 44.4 949.4 43.7 952.4 43.1 C955.4 42.5 960.2 41.4 964.1 41.5 C968 41.6 972.3 42.2 975.5 44 C978.7 45.8 981.6 48.5 983.3 52 C985 55.5 985.4 60.3 985.5 65.2 C985.6 70.1 984.8 76.8 983.8 81.5 C982.8 86.2 981.6 88.8 979.6 93.1 C977.6 97.4 974.8 102.8 972 107.1 C969.2 111.4 966.2 115.3 963 118.7 C959.8 122.1 955.4 124.5 953 127.2 C950.6 129.9 951.2 133.3 948.6 134.8 C946 136.3 941.3 135.8 937.6 136.2 C933.9 136.6 929.2 137.6 926.6 137.2 C924 136.8 922.8 134.9 921.7 133.6 C920.6 132.3 921.5 130.4 920 129.2 C918.5 128 915 128.6 912.5 126.5 C910 124.4 907.5 120.4 905 116.8 C902.5 113.2 899.4 109.3 897.2 105 C895 100.7 893 95.9 891.8 90.8 C890.6 85.7 890.3 79.2 890.1 74.5Z" fill="none" stroke="#111111" stroke-width="1"/>
</g>
<g id="e12">
<path d="M1077 208.5 C1079.3 206.9 1099.4 205.1 1102.1 206 C1104.8 206.9 1103.3 215.4 1103.5 217.7 C1103.7 220 1105.5 228 1104.4 229.4 C1103.4 230.8 1095.3 231 1093 231.3 C1090.7 231.6 1082.6 233.1 1081.2 232.2 C1079.8 231.3 1079.6 224.3 1079.2 221.9 C1078.8 219.5 1074.7 210.1 1077 208.5Z" fill="#c69c6d" stroke="#111111" stroke-width="1"/>
<path d="M1079.2 221.9 L1103.5 217.7" fill="none" stroke="#111111" stroke-width="1"/>
<path d="M1014.2 76.9 C1014 71.7 1014.4 68.3 1015.2 64.3 C1016.1 60.3 1017.5 56.3 1019.4 52.8 C1021.3 49.3 1024 45.7 1026.7 43.4 C1029.5 41 1033 39.4 1036.2 38.8 C1039.3 38.1 1042.4 38.8 1045.6 39.6 C1048.7 40.4 1051.9 41.5 1055 43.4 C1058.1 45.2 1061.5 47.9 1064.4 50.7 C1067.4 53.5 1070 56.8 1072.8 60.1 C1075.6 63.4 1078.5 67.6 1081.2 70.6 C1083.8 73.5 1086.4 76.2 1088.5 77.9 C1090.6 79.6 1092.9 80.2 1093.7 80.6 C1094.5 81.1 1092.2 81.8 1093.4 80.6 C1094.5 79.5 1097.9 76.6 1100.7 73.7 C1103.5 70.8 1106.8 66.6 1110.1 63.3 C1113.4 59.9 1116.9 56.5 1120.6 53.8 C1124.2 51.2 1127.9 48.8 1132.1 47.6 C1136.3 46.3 1141.9 46 1145.7 46.5 C1149.5 47 1152.5 48.6 1155.1 50.7 C1157.7 52.8 1159.8 56.1 1161.4 59.1 C1163 62 1164.3 65.2 1164.9 68.5 C1165.6 71.8 1165.8 74.8 1165.6 79 C1165.3 83.1 1164.5 88.7 1163.5 93.6 C1162.4 98.5 1161.3 103.1 1159.3 108.3 C1157.3 113.4 1154.2 118.9 1151.5 124.7 C1148.8 130.5 1145.1 137.3 1142.8 143 C1140.5 148.7 1139.8 153.9 1137.8 158.8 C1135.8 163.7 1133.2 167.8 1130.5 172.3 C1127.8 176.8 1124.8 181.8 1121.9 185.7 C1119.1 189.6 1116.3 192.4 1113.4 195.5 C1110.5 198.6 1106.6 202.2 1104.7 204 C1102.8 205.8 1104.5 205.8 1102.1 206.5 C1099.6 207.2 1094.2 207.9 1090 208.3 C1085.8 208.7 1082 211.3 1077.2 209 C1072.4 206.7 1065.4 198.1 1061.3 194.2 C1057.2 190.3 1055 189.6 1052.5 185.7 C1050 181.8 1048.4 175.7 1046.4 171 C1044.4 166.3 1042.5 161.7 1040.3 157.6 C1038.1 153.5 1034.8 150.7 1033 146.6 C1031.2 142.5 1030.7 137.3 1029.3 133.2 C1027.9 129.1 1026.3 126.1 1024.5 122.2 C1022.7 118.3 1019.9 114.5 1018.5 110 C1017.1 105.5 1017 100.9 1016.3 95.4 C1015.6 89.9 1014.4 82 1014.2 76.9Z" fill="#8cc63f" stroke="#111111" stroke-width="1"/>
<clipPath id="c12"><path d="M1014.2 76.9 C1014 71.7 1014.4 68.3 1015.2 64.3 C1016.1 60.3 1017.5 56.3 1019.4 52.8 C1021.3 49.3 1024 45.7 1026.7 43.4 C1029.5 41 1033 39.4 1036.2 38.8 C1039.3 38.1 1042.4 38.8 1045.6 39.6 C1048.7 40.4 1051.9 41.5 1055 43.4 C1058.1 45.2 1061.5 47.9 1064.4 50.7 C1067.4 53.5 1070 56.8 1072.8 60.1 C1075.6 63.4 1078.5 67.6 1081.2 70.6 C1083.8 73.5 1086.4 76.2 1088.5 77.9 C1090.6 79.6 1092.9 80.2 1093.7 80.6 C1094.5 81.1 1092.2 81.8 1093.4 80.6 C1094.5 79.5 1097.9 76.6 1100.7 73.7 C1103.5 70.8 1106.8 66.6 1110.1 63.3 C1113.4 59.9 1116.9 56.5 1120.6 53.8 C1124.2 51.2 1127.9 48.8 1132.1 47.6 C1136.3 46.3 1141.9 46 1145.7 46.5 C1149.5 47 1152.5 48.6 1155.1 50.7 C1157.7 52.8 1159.8 56.1 1161.4 59.1 C1163 62 1164.3 65.2 1164.9 68.5 C1165.6 71.8 1165.8 74.8 1165.6 79 C1165.3 83.1 1164.5 88.7 1163.5 93.6 C1162.4 98.5 1161.3 103.1 1159.3 108.3 C1157.3 113.4 1154.2 118.9 1151.5 124.7 C1148.8 130.5 1145.1 137.3 1142.8 143 C1140.5 148.7 1139.8 153.9 1137.8 158.8 C1135.8 163.7 1133.2 167.8 1130.5 172.3 C1127.8 176.8 1124.8 181.8 1121.9 185.7 C1119.1 189.6 1116.3 192.4 1113.4 195.5 C1110.5 198.6 1106.6 202.2 1104.7 204 C1102.8 205.8 1104.5 205.8 1102.1 206.5 C1099.6 207.2 1094.2 207.9 1090 208.3 C1085.8 208.7 1082 211.3 1077.2 209 C1072.4 206.7 1065.4 198.1 1061.3 194.2 C1057.2 190.3 1055 189.6 1052.5 185.7 C1050 181.8 1048.4 175.7 1046.4 171 C1044.4 166.3 1042.5 161.7 1040.3 157.6 C1038.1 153.5 1034.8 150.7 1033 146.6 C1031.2 142.5 1030.7 137.3 1029.3 133.2 C1027.9 129.1 1026.3 126.1 1024.5 122.2 C1022.7 118.3 1019.9 114.5 1018.5 110 C1017.1 105.5 1017 100.9 1016.3 95.4 C1015.6 89.9 1014.4 82 1014.2 76.9Z"/></clipPath>
<g clip-path="url(#c12)"><path d="M1010 136 L1029.5 132 L1043 128.5 L1072 170 L1072 200 L1010 215Z M1160 150 L1142.8 143 L1134 140.5 L1100 172 L1100 200 L1160 215Z" fill="#d9e021"/></g>
<path d="M1029.3 132 L1043 128.5" fill="none" stroke="#111111" stroke-width="1"/>
<path d="M1134 140.5 L1142.8 143" fill="none" stroke="#111111" stroke-width="1"/>
<path d="M1034.8 106.2 C1033.7 104.2 1031.9 100.4 1031.1 97.9 C1030.3 95.4 1029.2 90.3 1028.8 87.3 C1028.4 84.3 1028.2 78.2 1028.3 75.2 C1028.4 72.2 1028.8 67.1 1029.6 64.6 C1030.3 62.1 1032.5 57.8 1034.1 56.3 C1035.7 54.9 1039.6 53.9 1041.7 53.7 C1043.7 53.5 1047.5 54.1 1049.2 54.8 C1050.9 55.5 1052.8 57.9 1054.5 59.3 C1056.2 60.7 1060.3 63.6 1062.1 65.4 C1063.8 67.2 1065.9 71.1 1067.4 72.9 C1068.8 74.8 1070.9 77.6 1072.6 79 C1074.4 80.4 1078.2 82.6 1080.2 83.5 C1082.2 84.4 1086 85.4 1087.8 85.8 C1089.5 86.2 1092.3 86.1 1093.1 86.5 C1093.8 87 1092.2 88.7 1093.3 89 C1094.5 89.3 1099.7 89.3 1101.6 89 C1103.5 88.7 1105.9 87.8 1107.7 86.7 C1109.5 85.7 1113.9 82.9 1115.2 81.5 C1116.5 80 1116.3 77.9 1117.5 76.2 C1118.7 74.5 1122.4 70.2 1124.3 68.6 C1126.2 67 1129.8 64.8 1131.9 64.1 C1133.9 63.4 1137.6 63.6 1139.4 63.3 C1141.2 63 1144.2 61.5 1145.5 61.8 C1146.8 62.1 1148.3 64.2 1149.2 65.6 C1150.2 67 1151.6 70.6 1152.3 72.4 C1153 74.2 1154.4 77.2 1154.5 79.2 C1154.6 81.2 1153.8 85.3 1153 87.5 C1152.2 89.7 1150 93.1 1148.5 95.8 C1147 98.5 1146.1 105.7 1142 108 C1137.9 110.3 1124.9 111.8 1118 113 C1111.1 114.2 1097.5 117 1090 117 C1082.5 117 1068.7 113.5 1062 113 C1055.3 112.5 1043.6 113.9 1040 113 C1036.4 112.1 1036 108.2 1034.8 106.2Z" fill="#0f9749" stroke="#111111" stroke-width="1"/>
<path d="M1040 110.3 C1040.4 109.7 1044.5 110.2 1045.8 109.5 C1047.1 108.8 1054.5 102.1 1055.7 101.9 C1056.9 101.6 1059.9 105.2 1060.3 106.3 C1060.8 107.4 1061.2 113.8 1061.5 115 C1061.9 116.2 1064.1 119.3 1064.4 120.5 C1064.7 121.7 1064.8 127.2 1065 129.5 C1065.2 131.9 1067.1 146.3 1067.4 149.1 C1067.7 151.8 1069.3 160.9 1068.6 162.5 C1067.9 164.1 1060 167.9 1058.8 167.9 C1057.7 167.9 1055.9 163.7 1055.2 162.5 C1054.5 161.3 1051 155.2 1050.3 153.2 C1049.6 151.3 1047.2 141.4 1046.6 139.3 C1046 137.2 1043.4 130.4 1043 128.6 C1042.5 126.7 1041.5 118.8 1041.3 117.3 C1041 115.8 1039.6 111 1040 110.3Z" fill="#f15a24" stroke="#111111" stroke-width="1"/>
<path d="M1109.8 131.9 C1110.1 130 1109.3 126.3 1109.8 124.9 C1110.3 123.5 1114.9 116.6 1115.6 115 C1116.3 113.4 1117.2 106 1117.9 105.1 C1118.6 104.2 1122.5 104.6 1123.7 104 C1125 103.3 1131 98.2 1133 97.6 C1135.1 96.9 1147.3 95.2 1148.5 95.8 C1149.7 96.4 1148.2 103.5 1147.7 104.9 C1147.2 106.3 1143.7 109.5 1142.5 112.4 C1141.4 115.4 1135.1 137.9 1134 140.5 C1132.8 143.2 1129.8 143 1129.1 144.2 C1128.4 145.4 1126.3 153.6 1125.4 155.2 C1124.5 156.7 1119 161.6 1118.1 163 C1117.2 164.4 1115.5 171.2 1114.4 171.5 C1113.3 171.9 1105.7 167.9 1104.7 167.6 C1103.6 167.4 1102.1 170.4 1102.2 168.6 C1102.3 166.9 1105.2 149.7 1105.9 146.6 C1106.5 143.6 1109.4 133.7 1109.8 131.9Z" fill="#f15a24" stroke="#111111" stroke-width="1"/>
<path d="M1058.8 167.9 C1058.8 166.2 1067.3 162.3 1068.6 163 C1070 163.7 1072.3 173.1 1072.3 174.7 C1072.3 176.3 1070 180 1068.6 179.4 C1067.3 178.7 1058.8 169.5 1058.8 167.9Z" fill="#f7931e" stroke="#111111" stroke-width="1"/>
<path d="M1104.7 168.1 C1105.9 168.4 1113.4 170.6 1114.4 171.5 C1115.4 172.5 1115.4 176.9 1114.4 177.9 C1113.4 178.9 1106 182.1 1104.7 181.8 C1103.3 181.5 1101.2 176.2 1101 175 C1100.7 173.7 1101.8 169.8 1102.2 169.1 C1102.6 168.4 1103.4 167.9 1104.7 168.1Z" fill="#f7931e" stroke="#111111" stroke-width="1"/>
<path d="M1060.3 106.3 C1061.4 104.9 1069.3 103.6 1070.8 103.4 C1072.4 103.2 1072.2 103.9 1073.7 104.5 C1075.3 105.1 1082.5 107.9 1084.2 108.6 C1085.9 109.4 1087.4 110.7 1088.3 110.9 C1089.1 111.1 1089.4 110.7 1091.2 110.3 C1092.9 110 1101 109.1 1103.4 108 C1105.7 106.9 1110 101.9 1111.5 101 C1113.1 100.2 1116 100.6 1116.7 101 C1117.5 101.5 1118 103.5 1117.9 105.1 C1117.8 106.7 1116.5 112.7 1115.6 115 C1114.6 117.3 1111.3 124.2 1109.8 124.9 C1108.2 125.5 1104.5 121.2 1102.2 120.5 C1099.9 119.7 1091.6 118.8 1090 118.5 C1088.4 118.2 1089.7 117.6 1088.3 117.9 C1086.8 118.2 1079.3 120.3 1077.8 120.8 C1076.3 121.3 1077 122 1075.5 122 C1073.9 121.9 1066 121.3 1064.4 120.5 C1062.8 119.7 1062 116.7 1061.5 115 C1061 113.3 1059.3 107.6 1060.3 106.3Z" fill="#ccb52e" stroke="#111111" stroke-width="1"/>
<path d="M1070.8 103.4 C1071.5 105 1073.7 110.3 1074.9 113.3 C1076 116.2 1077.3 119.6 1077.8 120.8" fill="none" stroke="#111111" stroke-width="1"/>
<path d="M1088.3 110.9 L1088.4 117.9" fill="none" stroke="#111111" stroke-width="1"/>
<path d="M1103.4 108 C1103.3 109.1 1103 112.3 1102.8 114.4 C1102.6 116.5 1102.3 119.5 1102.2 120.5" fill="none" stroke="#111111" stroke-width="1"/>
<path d="M1064.4 120.5 C1065.5 119.7 1074.1 121.9 1075.5 122 C1076.8 122 1076.5 121.2 1077.8 120.8 C1079.1 120.4 1087 118.1 1088.3 117.9 C1089.5 117.7 1088.6 118.2 1090 118.5 C1091.4 118.7 1100.2 119.8 1102.2 120.5 C1104.2 121.1 1109 123.7 1109.8 124.9 C1110.5 126 1110.2 129.7 1109.8 131.9 C1109.4 134 1106.6 143 1105.9 146.6 C1105.1 150.3 1102.7 165.8 1102.2 168.6 C1101.7 171.4 1102.6 174.4 1101 175 C1099.3 175.5 1088.6 174 1085.7 174 C1082.8 174 1074 175.9 1072.3 174.7 C1070.6 173.6 1069.1 165.1 1068.6 162.5 C1068.1 159.9 1067.7 152.4 1067.4 149.1 C1067 145.8 1065.3 132.4 1065 129.5 C1064.7 126.7 1063.4 121.2 1064.4 120.5Z" fill="#ecc296" stroke="#111111" stroke-width="1"/>
<path d="M1077.8 120.8 C1077.7 121.9 1077.2 124.6 1077.2 127.2 C1077.3 129.8 1078.1 134.1 1078.1 136.5 C1078.1 138.9 1076.9 138 1077.2 141.7 C1077.4 145.5 1078.8 153.5 1079.6 158.8 C1080.4 164.2 1081.6 171.5 1082 174" fill="none" stroke="#111111" stroke-width="1"/>
<path d="M1090 118.5 C1090.1 120.1 1090.6 125.4 1090.6 128.4 C1090.5 131.4 1090.1 134.3 1089.7 136.5 C1089.2 138.7 1088.6 135.5 1088.1 141.7 C1087.7 148 1087.1 168.6 1086.9 174" fill="none" stroke="#111111" stroke-width="1"/>
<path d="M1102.2 120.5 C1102.3 121.2 1103 122.2 1102.8 124.9 C1102.5 127.6 1101.4 133.7 1100.7 136.5 C1100 139.3 1099.3 138 1098.5 141.7 C1097.8 145.5 1096.9 153.4 1096.1 158.8 C1095.3 164.3 1094.1 171.9 1093.7 174.5" fill="none" stroke="#111111" stroke-width="1"/>
<path d="M1067.4 147.1 C1069 146.6 1073.7 145.1 1077.2 144.2 C1080.6 143.3 1086 141.3 1088.1 141.7 C1090.3 142.2 1088.3 146.2 1090 146.6 C1091.7 147 1095.9 144.4 1098.5 144.2 C1101.2 144 1104.9 145.4 1106.1 145.7" fill="none" stroke="#111111" stroke-width="1"/>
<path d="M1068.6 162 C1070.4 161.7 1076.5 160 1079.6 160.1 C1082.7 160.1 1084.7 162.5 1087.4 162.5 C1090.2 162.5 1093.4 160.2 1096.1 160.1 C1098.8 159.9 1102.2 161.5 1103.4 161.8" fill="none" stroke="#111111" stroke-width="1"/>
<path d="M1045.8 109.5 C1046.3 110 1048.8 111.3 1049.9 113.3 C1051 115.2 1054.2 124.3 1055.1 126 C1056 127.8 1057.1 127.2 1057.4 128.4 C1057.8 129.6 1058.1 136.4 1058 136.5 C1057.9 136.6 1055.9 127.9 1056.4 129.5 C1056.9 131.1 1061.8 147.9 1062.5 150.3" fill="none" stroke="#111111" stroke-width="1"/>
<path d="M1049.9 112.7 L1056.9 108 L1060.7 107.4" fill="none" stroke="#111111" stroke-width="1"/>
<path d="M1045.2 130.1 L1047 131.9 L1055.1 126" fill="none" stroke="#111111" stroke-width="1"/>
<path d="M1057.4 128.4 L1063.3 127.2 L1065 129.5" fill="none" stroke="#111111" stroke-width="1"/>
<path d="M1043 128.6 L1045.4 133.2 L1055.2 128.6 L1063.7 127.6" fill="none" stroke="#111111" stroke-width="1"/>
<path d="M1050.3 153.2 L1055.2 155.7 L1062.5 150.8 L1067.6 149.6" fill="none" stroke="#111111" stroke-width="1"/>
<path d="M1115.6 115 L1126 119.1 L1133 116.7 L1140 119.1" fill="none" stroke="#111111" stroke-width="1"/>
<path d="M1126 119.1 C1125.5 120.4 1122.1 128.4 1121.4 130.7 C1120.6 133 1119.8 137.9 1119.7 138.8 C1119.5 139.8 1121 136.6 1120.5 138.6 C1120.1 140.5 1116.2 153.6 1115.6 155.7 C1115.1 157.7 1115.6 156.3 1115.6 156.4" fill="none" stroke="#111111" stroke-width="1"/>
<path d="M1133 116.7 C1132.6 116.2 1129.7 113.6 1129.5 112.1 C1129.4 110.6 1131.5 105.6 1131.9 104 C1132.3 102.3 1132.9 98.3 1133 97.6" fill="none" stroke="#111111" stroke-width="1"/>
<path d="M1110.8 136.1 L1120.5 138.8 L1129.1 144.2" fill="none" stroke="#111111" stroke-width="1"/>
<path d="M1107.1 154.7 L1115.6 155.9 L1125.4 155.2" fill="none" stroke="#111111" stroke-width="1"/>
<path d="M1115.6 155.9 L1118.1 163" fill="none" stroke="#111111" stroke-width="1"/>
<path d="M1068.1 180.8 C1068.3 179.6 1069.9 175.6 1072.3 174.7 C1074.6 173.8 1083.3 174.1 1085.7 174 C1088.1 173.9 1088 173.8 1090 174 C1092 174.1 1099 174.2 1101 175.2 C1102.9 176.2 1106.1 180.6 1104.7 181.8 C1103.2 183 1092.5 184 1090 184.5 C1087.5 184.9 1088.2 185.3 1085.7 185.2 C1083.2 185.1 1073.4 184.6 1071.1 184 C1068.7 183.4 1068 182.1 1068.1 180.8Z" fill="#1b75bc" stroke="#111111" stroke-width="1"/>
<path d="M1086.2 174 L1086.2 185.2" fill="none" stroke="#111111" stroke-width="1"/>
<path d="M1061.8 194.2 C1061 192.5 1066.8 189.1 1067.4 188.1 C1068 187.2 1067.1 183.5 1068.6 183.3 C1070.1 183 1083.9 185.1 1085.7 185.2 C1087.5 185.3 1088.4 184.7 1090 184.5 C1091.6 184.2 1102.7 181.1 1104.7 182 C1106.6 183 1113.2 193.6 1113.2 195.5 C1113.2 197.3 1107.7 202.9 1104.7 204 C1101.6 205.1 1080.7 209.7 1077.2 208.9 C1073.6 208.1 1062.6 196 1061.8 194.2Z" fill="#2b3990" stroke="#111111" stroke-width="1"/>
<path d="M1064.2 192.5 C1066.2 192.8 1072.1 193.8 1075.9 194.2 C1079.7 194.7 1083.4 195.5 1086.9 195.5 C1090.5 195.5 1093.4 194.9 1097.3 194.2 C1101.3 193.6 1108.5 192.2 1110.8 191.8" fill="none" stroke="#111111" stroke-width="1"/>
<path d="M1086.2 185.2 L1087.2 207.2" fill="none" stroke="#111111" stroke-width="1"/>
<path d="M1043 128.6 L1046.6 139.3 L1050.3 153.2 L1055.2 162.5 L1058.1 169.3 L1068.6 179.4 L1068.1 183.3 L1067.4 188.1" fill="none" stroke="#111111" stroke-width="1"/>
<path d="M1040.5 157.6 L1050.3 153.2" fill="none" stroke="#111111" stroke-width="1"/>
<path d="M1049.1 174.7 L1058.1 169.6" fill="none" stroke="#111111" stroke-width="1"/>
<path d="M1134 140.5 L1129.1 144.2 L1125.4 155.2 L1118.1 163 L1114.4 171.5 L1114.4 177.9 L1104.7 181.8" fill="none" stroke="#111111" stroke-width="1"/>
<path d="M1125.4 155.4 L1135.2 160.1" fill="none" stroke="#111111" stroke-width="1"/>
<path d="M1118.6 169.3 L1126.6 175.2" fill="none" stroke="#111111" stroke-width="1"/>
<path d="M1114.4 177.9 L1121.7 185.7" fill="none" stroke="#111111" stroke-width="1"/>
<path d="M1017.3 63.3 L1028.8 66.4" fill="none" stroke="#111111" stroke-width="1"/>
<path d="M1029.9 41.7 L1034.1 55.5" fill="none" stroke="#111111" stroke-width="1"/>
<path d="M1041.4 39.2 L1042.4 53.8" fill="none" stroke="#111111" stroke-width="1"/>
<path d="M1055 43.4 L1051.9 57" fill="none" stroke="#111111" stroke-width="1"/>
<path d="M1062.7 49.7 L1058.6 62.6" fill="none" stroke="#111111" stroke-width="1"/>
<path d="M1071.1 58.4 L1064 68.5" fill="none" stroke="#111111" stroke-width="1"/>
<path d="M1079.1 68.5 L1071.1 76.9" fill="none" stroke="#111111" stroke-width="1"/>
<path d="M1087 76.4 L1082.2 85.2" fill="none" stroke="#111111" stroke-width="1"/>
<path d="M1015.2 90.5 L1027.8 87.3" fill="none" stroke="#111111" stroke-width="1"/>
<path d="M1018.4 103 L1030.5 98.8" fill="none" stroke="#111111" stroke-width="1"/>
<path d="M1023 115.6 L1036.8 108.7" fill="none" stroke="#111111" stroke-width="1"/>
<path d="M1093.7 80.6 L1093.7 88.4" fill="none" stroke="#111111" stroke-width="1"/>
<path d="M1092.6 79.9 L1093.8 89" fill="none" stroke="#111111" stroke-width="1"/>
<path d="M1100.9 73.9 L1107.7 86.4" fill="none" stroke="#111111" stroke-width="1"/>
<path d="M1109.2 64.8 L1117 76.6" fill="none" stroke="#111111" stroke-width="1"/>
<path d="M1121.3 56.5 L1124.6 68.3" fill="none" stroke="#111111" stroke-width="1"/>
<path d="M1133.4 54.2 L1134.1 63.8" fill="none" stroke="#111111" stroke-width="1"/>
<path d="M1144.7 53.5 L1145.5 61.8" fill="none" stroke="#111111" stroke-width="1"/>
<path d="M1157.6 59.5 L1149.6 65.6" fill="none" stroke="#111111" stroke-width="1"/>
<path d="M1160.6 77.7 L1154.5 79.2" fill="none" stroke="#111111" stroke-width="1"/>
<path d="M1159.1 94.3 L1151.5 90.1" fill="none" stroke="#111111" stroke-width="1"/>
<path d="M1156.1 112.4 L1147.3 107.2" fill="none" stroke="#111111" stroke-width="1"/>
<path d="M1028.3 75.2 C1029 75.4 1034 76 1034.8 76.7 C1035.7 77.4 1037 81 1036.4 82 C1035.7 83.1 1029.2 86.8 1028.3 87.3" fill="none" stroke="#111111" stroke-width="1"/>
<path d="M1034.8 76.7 C1035.7 76 1041.5 70.3 1043.2 69.2 C1044.8 68 1050.3 66.4 1051.5 65.4 C1052.6 64.4 1054.2 59.9 1054.5 59.3" fill="none" stroke="#111111" stroke-width="1"/>
<path d="M1051.5 65.4 C1051.6 66.1 1052.4 72 1053 72.9 C1053.6 73.9 1056.6 75.2 1057.5 74.5 C1058.4 73.7 1061.6 66.3 1062.1 65.4" fill="none" stroke="#111111" stroke-width="1"/>
<path d="M1053 72.9 C1052.5 73.6 1049.1 78.5 1048.5 79.7 C1047.8 81 1047.4 84.8 1046.2 85 C1045 85.3 1037.3 82.3 1036.4 82" fill="none" stroke="#111111" stroke-width="1"/>
<path d="M1057.5 74.5 C1057.6 74.8 1057.4 77.2 1058.3 78.2 C1059.1 79.3 1066.3 83.6 1065.8 85 C1065.4 86.5 1055.6 92.4 1053.7 92.6 C1051.9 92.8 1047.7 88.1 1046.9 87.3 C1046.2 86.5 1046.3 85.3 1046.2 85" fill="none" stroke="#111111" stroke-width="1"/>
<path d="M1065.8 85 C1066.3 84.6 1069.7 81.1 1070.4 80.5 C1071.1 79.9 1072.4 79.1 1072.6 79" fill="none" stroke="#111111" stroke-width="1"/>
<path d="M1065.8 85 C1066.4 85.4 1070.1 87.9 1071.1 88.8 C1072.1 89.7 1075.4 92.7 1075.7 94.1 C1075.9 95.5 1073.9 102.2 1073.4 103.2 C1072.9 104.2 1070.7 104.1 1070.4 104.2" fill="none" stroke="#111111" stroke-width="1"/>
<path d="M1075.7 94.1 C1076.6 94.6 1083.9 98 1084.7 99.4 C1085.6 100.8 1084.1 107.6 1084 108.5" fill="none" stroke="#111111" stroke-width="1"/>
<path d="M1084.7 99.4 C1085.3 99.2 1089.3 98.5 1090 97.9 C1090.8 97.3 1092.2 93.8 1092.4 93.4" fill="none" stroke="#111111" stroke-width="1"/>
<path d="M1075.7 94.1 L1079.1 84.3" fill="none" stroke="#111111" stroke-width="1"/>
<path d="M1053.7 92.6 L1054.5 101.7" fill="none" stroke="#111111" stroke-width="1"/>
<path d="M1046.2 85 C1045.5 85.1 1039.8 85 1039.4 85.8 C1039 86.6 1042.2 91.7 1042.4 93.4 C1042.6 95 1041.3 100.9 1041.7 102.4 C1042 103.9 1045.1 107.9 1045.4 108.5" fill="none" stroke="#111111" stroke-width="1"/>
<path d="M1036.4 82 L1039.4 85.8" fill="none" stroke="#111111" stroke-width="1"/>
<path d="M1042.4 93.4 L1031.1 97.9" fill="none" stroke="#111111" stroke-width="1"/>
<path d="M1139.4 63.3 C1139.5 64.1 1139.9 70.4 1140.2 71.6 C1140.5 72.8 1141.2 75.3 1142.4 75.4 C1143.7 75.5 1151.3 72.7 1152.3 72.4" fill="none" stroke="#111111" stroke-width="1"/>
<path d="M1142.4 75.4 C1142.1 76.1 1141.2 80.9 1138.7 82.2 C1136.1 83.6 1119.1 89.1 1116.7 89 C1114.4 88.9 1115.4 82.2 1115.2 81.5" fill="none" stroke="#111111" stroke-width="1"/>
<path d="M1138.7 82.2 L1145.5 96.6" fill="none" stroke="#111111" stroke-width="1"/>
<path d="M1138.7 82.2 L1133.4 99.1" fill="none" stroke="#111111" stroke-width="1"/>
<path d="M1116.7 89 L1117.5 100.4" fill="none" stroke="#111111" stroke-width="1"/>
<path d="M1107.7 86.7 C1107.9 87.4 1109.4 91.4 1109.9 92.8 C1110.5 94.2 1112.7 99.6 1113 100.4" fill="none" stroke="#111111" stroke-width="1"/>
<path d="M1101.6 89 L1100.9 106.4" fill="none" stroke="#111111" stroke-width="1"/>
<path d="M1093.3 89 L1091.8 107.2" fill="none" stroke="#111111" stroke-width="1"/>
<path d="M1085.8 87.5 L1085 104.9" fill="none" stroke="#111111" stroke-width="1"/>
<path d="M1014.2 76.9 C1014 71.7 1014.4 68.3 1015.2 64.3 C1016.1 60.3 1017.5 56.3 1019.4 52.8 C1021.3 49.3 1024 45.7 1026.7 43.4 C1029.5 41 1033 39.4 1036.2 38.8 C1039.3 38.1 1042.4 38.8 1045.6 39.6 C1048.7 40.4 1051.9 41.5 1055 43.4 C1058.1 45.2 1061.5 47.9 1064.4 50.7 C1067.4 53.5 1070 56.8 1072.8 60.1 C1075.6 63.4 1078.5 67.6 1081.2 70.6 C1083.8 73.5 1086.4 76.2 1088.5 77.9 C1090.6 79.6 1092.9 80.2 1093.7 80.6 C1094.5 81.1 1092.2 81.8 1093.4 80.6 C1094.5 79.5 1097.9 76.6 1100.7 73.7 C1103.5 70.8 1106.8 66.6 1110.1 63.3 C1113.4 59.9 1116.9 56.5 1120.6 53.8 C1124.2 51.2 1127.9 48.8 1132.1 47.6 C1136.3 46.3 1141.9 46 1145.7 46.5 C1149.5 47 1152.5 48.6 1155.1 50.7 C1157.7 52.8 1159.8 56.1 1161.4 59.1 C1163 62 1164.3 65.2 1164.9 68.5 C1165.6 71.8 1165.8 74.8 1165.6 79 C1165.3 83.1 1164.5 88.7 1163.5 93.6 C1162.4 98.5 1161.3 103.1 1159.3 108.3 C1157.3 113.4 1154.2 118.9 1151.5 124.7 C1148.8 130.5 1145.1 137.3 1142.8 143 C1140.5 148.7 1139.8 153.9 1137.8 158.8 C1135.8 163.7 1133.2 167.8 1130.5 172.3 C1127.8 176.8 1124.8 181.8 1121.9 185.7 C1119.1 189.6 1116.3 192.4 1113.4 195.5 C1110.5 198.6 1106.6 202.2 1104.7 204 C1102.8 205.8 1104.5 205.8 1102.1 206.5 C1099.6 207.2 1094.2 207.9 1090 208.3 C1085.8 208.7 1082 211.3 1077.2 209 C1072.4 206.7 1065.4 198.1 1061.3 194.2 C1057.2 190.3 1055 189.6 1052.5 185.7 C1050 181.8 1048.4 175.7 1046.4 171 C1044.4 166.3 1042.5 161.7 1040.3 157.6 C1038.1 153.5 1034.8 150.7 1033 146.6 C1031.2 142.5 1030.7 137.3 1029.3 133.2 C1027.9 129.1 1026.3 126.1 1024.5 122.2 C1022.7 118.3 1019.9 114.5 1018.5 110 C1017.1 105.5 1017 100.9 1016.3 95.4 C1015.6 89.9 1014.4 82 1014.2 76.9Z" fill="none" stroke="#111111" stroke-width="1"/>
</g>
<g id="seedling">
<path d="M1255.6 78.5 C1256.8 78 1259.7 78.8 1260.2 81.5 C1260.8 84.2 1258.7 94 1259.1 96.6 C1259.4 99.2 1261.3 99 1262.6 99 C1263.8 99 1265.8 96.5 1267.2 96.6 C1268.6 96.8 1270.5 98.7 1271.9 100.1 C1273.3 101.5 1275.5 104.2 1276.5 105.9 C1277.6 107.7 1278.6 109.1 1278.8 111.7 C1279 114.4 1278.2 121.5 1277.9 123.4 C1277.6 125.2 1277.1 122.7 1276.7 124.2 C1276.3 125.7 1275.9 130.6 1275.2 133.4 C1274.4 136.1 1272.7 140 1271.5 142.5 C1270.3 145.1 1268.4 148.3 1267.2 150.5 C1266 152.8 1264.7 155.6 1263.6 157.5 C1262.5 159.4 1260.4 161.5 1259.8 163.2 C1259.1 164.8 1259 166.7 1259.2 168.5 C1259.5 170.2 1260.7 172.8 1261.3 174.7 C1261.9 176.6 1262.6 179.1 1263.1 181.1 C1263.6 183.2 1264.5 186 1264.8 188.3 C1265.2 190.5 1265.5 193.5 1265.2 196.1 C1265 198.7 1262.5 202.3 1263.1 205.3 C1263.7 208.2 1268.5 212.1 1269.2 215.8 C1270 219.5 1268.4 225.8 1268.2 230 C1268.1 234.2 1268.2 239.9 1268.2 243.8 C1268.3 247.6 1269 252.7 1268.5 255.7 C1268 258.7 1265.3 261.7 1264.8 263.9 C1264.2 266.2 1264.7 267.6 1264.9 270.5 C1265.1 273.4 1266.1 280.1 1266.4 283.3 C1266.7 286.5 1266.7 289.3 1266.8 292 C1266.9 294.7 1267.2 298.5 1266.9 301.4 C1266.6 304.3 1265.9 308.5 1265 311.1 C1264.1 313.8 1262.6 316.9 1261 319.1 C1259.4 321.3 1256.2 323.6 1254.3 325.6 C1252.5 327.7 1250.6 330.6 1248.7 333 C1246.9 335.3 1244.1 339 1242.1 341.3 C1240.2 343.6 1237 346.4 1235.7 348.5 C1234.4 350.6 1233.9 353.3 1233.6 355.3 C1233.3 357.2 1234.1 360.5 1233.8 361.5 C1233.5 362.5 1231.9 362.7 1231.4 361.7 C1230.9 360.7 1230.4 357.1 1230.6 354.9 C1230.8 352.7 1231.6 349.3 1232.9 346.9 C1234.2 344.5 1237.5 341.5 1239.5 339.1 C1241.4 336.7 1244.1 333.2 1245.9 330.8 C1247.7 328.4 1249.7 325.3 1251.5 323.2 C1253.2 321 1256.3 318.7 1257.8 316.7 C1259.2 314.7 1260.4 312.2 1261.2 309.9 C1262 307.5 1262.8 303.7 1263.1 301 C1263.4 298.3 1263.2 294.7 1263.2 292 C1263.2 289.4 1263.2 286.7 1263 283.5 C1262.8 280.3 1262 273.7 1261.9 270.7 C1261.8 267.7 1261.6 265.6 1262.2 263.3 C1262.9 261 1265.7 258.2 1266.3 255.3 C1266.9 252.4 1266.2 247.6 1266.2 243.8 C1266.1 240 1266 234.1 1266.2 230 C1266.3 225.8 1267.9 219.9 1267.2 216.2 C1266.4 212.6 1261.7 208.8 1261.1 205.7 C1260.5 202.7 1262.9 198.5 1263.2 195.9 C1263.4 193.3 1263.1 190.7 1262.8 188.5 C1262.5 186.4 1261.6 183.7 1261.1 181.7 C1260.6 179.7 1259.9 177.2 1259.3 175.3 C1258.7 173.4 1257.4 170.7 1257.2 168.7 C1256.9 166.8 1257.1 164.3 1257.8 162.4 C1258.5 160.6 1260.7 158.4 1261.8 156.5 C1262.9 154.5 1264.1 151.7 1265.2 149.5 C1266.3 147.2 1268 144 1269.1 141.5 C1270.2 138.9 1271.6 135.3 1272.2 132.6 C1272.9 130 1273.1 125.2 1273.3 123.8 C1273.6 122.3 1274 124.2 1274 122.9 C1273.9 121.7 1273.7 116.4 1273 115.5 C1272.4 114.5 1271.1 116.7 1269.5 116.6 C1268 116.6 1264.8 116.3 1262.6 115.2 C1260.3 114.2 1256.1 111.3 1254.4 109.4 C1252.8 107.5 1252 106.1 1251.6 102.4 C1251.3 98.8 1251.5 88.6 1252.1 85 C1252.7 81.4 1254.4 79 1255.6 78.5Z" fill="#dfe23b" stroke="#111111" stroke-width="1"/>
<circle cx="1232.7" cy="361.6" r="1.3" fill="#1a2340"/>
<path d="M1260.5 170.8 C1260.9 170.6 1262.2 169.7 1263 169.6 C1263.8 169.5 1264.8 169.5 1265.6 170 C1266.4 170.5 1267.4 171.9 1267.8 172.8 C1268.2 173.7 1268 175 1267.8 175.6 C1267.6 176.2 1266.8 176.3 1266.6 176.4" fill="none" stroke="#111111" stroke-width="1"/>
<path d="M1263.2 311 C1263 312.5 1262.5 317 1262.2 320 C1261.9 323 1261.5 327.5 1261.3 329" fill="none" stroke="#111111" stroke-width="1.2"/>
<path d="M1234 61 C1234.2 60.7 1235 59.4 1236 59.9 C1237.1 60.4 1241.2 63.9 1242.8 65.2 C1244.4 66.5 1248.2 69.6 1249.8 71 C1251.3 72.5 1255.7 76.4 1256 78 C1256.4 79.7 1253.2 85 1252.6 85.2 C1252 85.5 1252.1 82.1 1250.9 80.3 C1249.8 78.6 1244.8 71.9 1242.8 69.9 C1240.8 67.8 1235 63.7 1234 62.7 C1232.9 61.6 1233.7 61.4 1234 61Z" fill="#dfe23b" stroke="#111111" stroke-width="0.9"/>
<path d="M1255.6 78.3 C1256.5 76.4 1265.1 68.8 1268.4 66.4 C1271.6 64 1281.2 59.1 1283.5 58 C1285.8 57 1288.2 57.4 1288.4 57.6 C1288.5 57.7 1286.4 58.5 1284.7 59.7 C1282.9 60.8 1275.8 65.2 1273 67.8 C1270.2 70.4 1262.7 80.8 1260.7 82 C1258.7 83.2 1254.7 80.1 1255.6 78.3Z" fill="#dfe23b" stroke="#111111" stroke-width="0.9"/>
<path d="M1185.8 65.2 C1186.2 62.8 1187.4 57.4 1189.3 54.8 C1191.2 52.2 1195.5 49.2 1198.6 47.8 C1201.7 46.4 1206.7 45.4 1210.2 45.2 C1213.7 45 1218.9 45.6 1221.9 46.4 C1224.8 47.2 1227.6 49.1 1230 50.8 C1232.4 52.5 1235.5 55.5 1238.1 57.8 C1240.8 60.1 1245.6 64.5 1247.4 66.4 C1249.3 68.3 1250.3 70 1250.5 70.6 C1250.7 71.1 1250.1 71 1248.8 70.1 C1247.6 69.3 1244.2 66.5 1242.3 65 C1240.4 63.5 1237.3 60.7 1236 60.1 C1234.8 59.5 1235.4 60.4 1234 61 C1232.5 61.7 1229.4 63.1 1226.5 64.3 C1223.7 65.5 1218.4 67.7 1214.9 69 C1211.4 70.2 1206.6 71.7 1203.3 72.4 C1199.9 73.1 1195.2 73.8 1192.8 73.6 C1190.3 73.4 1188 72.3 1187 71 C1185.9 69.8 1185.5 67.7 1185.8 65.2Z" fill="#9ccb4e" stroke="#111111" stroke-width="0.9"/>
<path d="M1263.7 68 C1263.7 66.7 1269.9 59.9 1273 57.1 C1276.1 54.3 1279.2 52.8 1282.3 51.3 C1285.4 49.7 1288.5 48.4 1291.6 47.8 C1294.7 47.2 1297.8 46.8 1300.9 47.8 C1304 48.8 1307.3 51.1 1310.2 53.6 C1313.1 56.1 1316.4 59.6 1318.4 62.9 C1320.4 66.2 1321.7 70.3 1322.3 73.4 C1322.9 76.5 1322.5 79.6 1321.9 81.5 C1321.2 83.4 1320.3 85.2 1318.4 85 C1316.4 84.8 1313.1 82.9 1310.2 80.3 C1307.3 77.8 1303.6 73 1300.9 69.9 C1298.2 66.8 1296.1 63.8 1294 61.7 C1291.8 59.7 1289.9 58.2 1288.1 57.6 C1286.4 56.9 1286 56.8 1283.5 58 C1281 59.2 1276.3 63.1 1273 64.8 C1269.7 66.4 1263.7 69.3 1263.7 68Z" fill="#9ccb4e" stroke="#111111" stroke-width="0.9"/>
<path d="M1249.8 57.1 C1250.2 56.3 1252.9 55.6 1254.4 55.7 C1255.9 55.8 1261.4 57.7 1262.6 58.3 C1263.7 58.8 1264.1 59.2 1264.2 60.6 C1264.3 61.9 1264.7 67.8 1263.7 69.9 C1262.7 71.9 1257.4 78 1255.8 78 C1254.2 78 1250.3 71.6 1249.8 69.9 C1249.2 68.1 1250.9 64.4 1250.9 62.9 C1250.9 61.4 1249.4 57.9 1249.8 57.1Z" fill="#9ccb4e" stroke="#111111" stroke-width="0.9"/>
</g>
</svg>
</body>
</html>
